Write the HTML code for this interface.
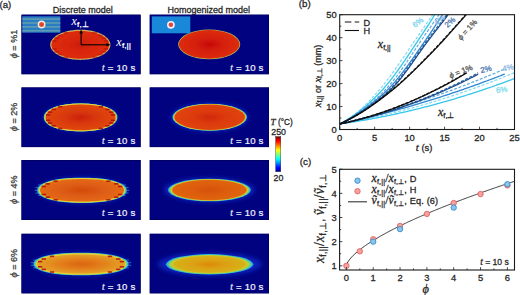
<!DOCTYPE html><html><head><meta charset="utf-8"><style>
html,body{margin:0;padding:0;background:#fff;width:520px;height:295px;overflow:hidden}
svg{display:block}
text{font-family:"Liberation Sans",sans-serif}
.serif{font-family:"Liberation Serif",serif}
</style></head><body>
<svg width="520" height="295" viewBox="0 0 520 295">
<defs>
<filter id="bl1" x="-20%" y="-40%" width="140%" height="180%"><feGaussianBlur stdDeviation="0.55"/></filter>
<filter id="bl2" x="-20%" y="-40%" width="140%" height="180%"><feGaussianBlur stdDeviation="1.1"/></filter>
<filter id="bl3" x="-30%" y="-60%" width="160%" height="220%"><feGaussianBlur stdDeviation="2.2"/></filter>

<radialGradient id="gh0" cx="0.5" cy="0.5" r="0.5"><stop offset="0" stop-color="#c80606"/><stop offset="0.45" stop-color="#d42008"/><stop offset="1" stop-color="#dc2c08"/></radialGradient>
<radialGradient id="gh1" cx="0.5" cy="0.5" r="0.5"><stop offset="0" stop-color="#d02808"/><stop offset="0.45" stop-color="#dc3a0c"/><stop offset="1" stop-color="#e04410"/></radialGradient>
<radialGradient id="gh2" cx="0.5" cy="0.5" r="0.5"><stop offset="0" stop-color="#d45210"/><stop offset="0.45" stop-color="#dc5c10"/><stop offset="1" stop-color="#e06610"/></radialGradient>
<radialGradient id="gh3" cx="0.5" cy="0.5" r="0.5"><stop offset="0" stop-color="#dc8a10"/><stop offset="0.45" stop-color="#dca012"/><stop offset="1" stop-color="#d6b216"/></radialGradient>
<radialGradient id="gd0" cx="0.5" cy="0.5" r="0.5"><stop offset="0" stop-color="#cc1c08"/><stop offset="0.45" stop-color="#d82608"/><stop offset="1" stop-color="#de2c08"/></radialGradient>
<radialGradient id="gd1" cx="0.5" cy="0.5" r="0.5"><stop offset="0" stop-color="#cc2008"/><stop offset="0.45" stop-color="#d8380c"/><stop offset="1" stop-color="#e04812"/></radialGradient>
<radialGradient id="gd2" cx="0.5" cy="0.5" r="0.5"><stop offset="0" stop-color="#d44a10"/><stop offset="0.45" stop-color="#dc5a12"/><stop offset="1" stop-color="#e46a14"/></radialGradient>
<radialGradient id="gd3" cx="0.5" cy="0.5" r="0.5"><stop offset="0" stop-color="#dc6414"/><stop offset="0.45" stop-color="#e27c1a"/><stop offset="1" stop-color="#e4a028"/></radialGradient>
<linearGradient id="jet" x1="0" y1="1" x2="0" y2="0">
<stop offset="0" stop-color="#00008f"/><stop offset="0.11" stop-color="#0000ff"/>
<stop offset="0.36" stop-color="#00ffff"/><stop offset="0.62" stop-color="#ffff00"/>
<stop offset="0.87" stop-color="#ff0000"/><stop offset="1" stop-color="#800000"/>
</linearGradient>
<clipPath id="clipb"><rect x="339.7" y="14.7" width="174.8" height="114.8"/></clipPath>
<clipPath id="clipc"><rect x="339.6" y="169.3" width="174.9" height="100.7"/></clipPath>
<clipPath id="cp00"><rect x="21.3" y="14.4" width="119.5" height="60"/></clipPath>
<clipPath id="cp01"><rect x="149.5" y="14.4" width="119.5" height="60"/></clipPath>
<clipPath id="cp10"><rect x="21.3" y="87.3" width="119.5" height="60"/></clipPath>
<clipPath id="cp11"><rect x="149.5" y="87.3" width="119.5" height="60"/></clipPath>
<clipPath id="cp20"><rect x="21.3" y="160.0" width="119.5" height="60"/></clipPath>
<clipPath id="cp21"><rect x="149.5" y="160.0" width="119.5" height="60"/></clipPath>
<clipPath id="cp30"><rect x="21.3" y="233.6" width="119.5" height="60"/></clipPath>
<clipPath id="cp31"><rect x="149.5" y="233.6" width="119.5" height="60"/></clipPath>
</defs>
<text x="-0.5" y="8.4" font-size="9.6" fill="#262626" stroke="#262626" stroke-width="0.28">(a)</text>
<text x="82.8" y="13" font-size="9" fill="#262626" text-anchor="middle" stroke="#262626" stroke-width="0.28">Discrete model</text>
<text x="208.8" y="13" font-size="9" fill="#262626" text-anchor="middle" stroke="#262626" stroke-width="0.28">Homogenized model</text>
<g clip-path="url(#cp00)">
<rect x="21.3" y="14.4" width="119.5" height="60" fill="#01027f"/>
<g filter="url(#bl1)">
<path d="M110.40,44.80 L110.34,45.79 L110.14,46.77 L109.82,47.75 L109.37,48.71 L108.80,49.65 L108.11,50.58 L107.30,51.48 L106.37,52.35 L105.33,53.19 L104.18,53.99 L102.93,54.76 L101.58,55.48 L100.15,56.15 L98.62,56.78 L97.02,57.36 L95.35,57.88 L93.61,58.34 L91.82,58.75 L89.98,59.10 L88.09,59.39 L86.17,59.61 L84.23,59.77 L82.27,59.87 L80.30,59.90 L78.33,59.87 L76.37,59.77 L74.43,59.61 L72.51,59.39 L70.62,59.10 L68.78,58.75 L66.99,58.34 L65.25,57.88 L63.58,57.36 L61.98,56.78 L60.45,56.15 L59.02,55.48 L57.67,54.76 L56.42,53.99 L55.27,53.19 L54.23,52.35 L53.30,51.48 L52.49,50.58 L51.80,49.65 L51.23,48.71 L50.78,47.75 L50.46,46.77 L50.26,45.79 L50.20,44.80 L50.26,43.81 L50.46,42.83 L50.78,41.85 L51.23,40.89 L51.80,39.95 L52.49,39.02 L53.30,38.12 L54.23,37.25 L55.27,36.41 L56.42,35.61 L57.67,34.84 L59.02,34.12 L60.45,33.45 L61.98,32.82 L63.58,32.24 L65.25,31.72 L66.99,31.26 L68.78,30.85 L70.62,30.50 L72.51,30.21 L74.43,29.99 L76.37,29.83 L78.33,29.73 L80.30,29.70 L82.27,29.73 L84.23,29.83 L86.17,29.99 L88.09,30.21 L89.98,30.50 L91.82,30.85 L93.61,31.26 L95.35,31.72 L97.02,32.24 L98.62,32.82 L100.15,33.45 L101.58,34.12 L102.93,34.84 L104.18,35.61 L105.33,36.41 L106.37,37.25 L107.30,38.12 L108.11,39.02 L108.80,39.95 L109.37,40.89 L109.82,41.85 L110.14,42.83 L110.34,43.81Z" fill="#d0b060"/>
<path d="M109.19,44.80 L109.13,45.71 L108.94,46.61 L108.63,47.51 L108.21,48.39 L107.66,49.26 L106.99,50.12 L106.21,50.94 L105.32,51.74 L104.32,52.52 L103.22,53.26 L102.02,53.96 L100.73,54.62 L99.35,55.24 L97.89,55.82 L96.35,56.35 L94.75,56.83 L93.08,57.26 L91.36,57.63 L89.59,57.95 L87.78,58.22 L85.94,58.42 L84.07,58.57 L82.19,58.66 L80.30,58.69 L78.41,58.66 L76.53,58.57 L74.66,58.42 L72.82,58.22 L71.01,57.95 L69.24,57.63 L67.52,57.26 L65.86,56.83 L64.25,56.35 L62.71,55.82 L61.25,55.24 L59.87,54.62 L58.58,53.96 L57.38,53.26 L56.28,52.52 L55.28,51.74 L54.39,50.94 L53.61,50.12 L52.94,49.26 L52.39,48.39 L51.97,47.51 L51.66,46.61 L51.47,45.71 L51.41,44.80 L51.47,43.89 L51.66,42.99 L51.97,42.09 L52.39,41.21 L52.94,40.34 L53.61,39.48 L54.39,38.66 L55.28,37.86 L56.28,37.08 L57.38,36.34 L58.58,35.64 L59.87,34.98 L61.25,34.36 L62.71,33.78 L64.25,33.25 L65.85,32.77 L67.52,32.34 L69.24,31.97 L71.01,31.65 L72.82,31.38 L74.66,31.18 L76.53,31.03 L78.41,30.94 L80.30,30.91 L82.19,30.94 L84.07,31.03 L85.94,31.18 L87.78,31.38 L89.59,31.65 L91.36,31.97 L93.08,32.34 L94.75,32.77 L96.35,33.25 L97.89,33.78 L99.35,34.36 L100.73,34.98 L102.02,35.64 L103.22,36.34 L104.32,37.08 L105.32,37.85 L106.21,38.66 L106.99,39.48 L107.66,40.34 L108.21,41.21 L108.63,42.09 L108.94,42.99 L109.13,43.89Z" fill="url(#gd0)"/>
<rect x="63.57" y="32.01" width="4.4" height="1.6" fill="#b00c08" opacity="0.55"/>
<rect x="92.63" y="32.01" width="4.4" height="1.6" fill="#b00c08" opacity="0.55"/>
<rect x="57.86" y="34.72" width="4.4" height="1.6" fill="#b00c08" opacity="0.55"/>
<rect x="98.34" y="34.72" width="4.4" height="1.6" fill="#b00c08" opacity="0.55"/>
<rect x="54.39" y="37.43" width="4.4" height="1.6" fill="#b00c08" opacity="0.55"/>
<rect x="101.81" y="37.43" width="4.4" height="1.6" fill="#b00c08" opacity="0.55"/>
<rect x="52.31" y="40.14" width="4.4" height="1.6" fill="#b00c08" opacity="0.55"/>
<rect x="103.89" y="40.14" width="4.4" height="1.6" fill="#b00c08" opacity="0.55"/>
<rect x="52.31" y="48.26" width="4.4" height="1.6" fill="#b00c08" opacity="0.55"/>
<rect x="103.89" y="48.26" width="4.4" height="1.6" fill="#b00c08" opacity="0.55"/>
<rect x="54.39" y="50.97" width="4.4" height="1.6" fill="#b00c08" opacity="0.55"/>
<rect x="101.81" y="50.97" width="4.4" height="1.6" fill="#b00c08" opacity="0.55"/>
<rect x="57.86" y="53.68" width="4.4" height="1.6" fill="#b00c08" opacity="0.55"/>
<rect x="98.34" y="53.68" width="4.4" height="1.6" fill="#b00c08" opacity="0.55"/>
<rect x="63.57" y="56.39" width="4.4" height="1.6" fill="#b00c08" opacity="0.55"/>
<rect x="92.63" y="56.39" width="4.4" height="1.6" fill="#b00c08" opacity="0.55"/>
</g>
<rect x="21.650000000000002" y="14.75" width="118.8" height="59.3" fill="none" stroke="#000058" stroke-width="0.7"/>
</g>
<text x="135.4" y="70.80000000000001" font-size="9.6" letter-spacing="0.2" fill="#f2f2fa" stroke="#f2f2fa" stroke-width="0.22" text-anchor="end"><tspan font-style="italic" font-family="Liberation Serif" font-size="9.4">t</tspan> = 10 s</text>
<g clip-path="url(#cp01)">
<rect x="149.5" y="14.4" width="119.5" height="60" fill="#01027f"/>
<g filter="url(#bl1)">
<ellipse cx="209.20" cy="44.40" rx="31.00" ry="14.90" fill="#b0c460"/>
<ellipse cx="209.20" cy="44.40" rx="30.30" ry="14.30" fill="url(#gh0)"/>
</g>
<rect x="149.85" y="14.75" width="118.8" height="59.3" fill="none" stroke="#000058" stroke-width="0.7"/>
</g>
<text x="263.6" y="70.80000000000001" font-size="9.6" letter-spacing="0.2" fill="#f2f2fa" stroke="#f2f2fa" stroke-width="0.22" text-anchor="end"><tspan font-style="italic" font-family="Liberation Serif" font-size="9.4">t</tspan> = 10 s</text>
<text x="0" y="0" font-size="9" fill="#3a3a3a" text-anchor="middle" transform="translate(16.8 44.1) rotate(-90)" stroke="#3a3a3a" stroke-width="0.28"><tspan class="serif" font-style="italic" font-size="10">ϕ</tspan> = %1</text>
<g clip-path="url(#cp10)">
<rect x="21.3" y="87.3" width="119.5" height="60" fill="#01027f"/>
<g filter="url(#bl3)"><ellipse cx="80.60" cy="117.40" rx="37.26" ry="14.26" fill="#1a3ae8" opacity="0.55"/></g>
<g filter="url(#bl1)">
<path d="M117.38,117.40 L117.31,118.50 L117.09,119.50 L116.72,120.45 L116.21,121.37 L115.56,122.26 L114.77,123.11 L113.84,123.94 L112.77,124.73 L111.58,125.48 L110.25,126.20 L108.81,126.88 L107.24,127.51 L105.57,128.11 L103.78,128.66 L101.89,129.16 L99.90,129.61 L97.82,130.02 L95.65,130.37 L93.40,130.67 L91.06,130.92 L88.64,131.11 L86.13,131.25 L83.51,131.33 L80.60,131.36 L77.69,131.33 L75.07,131.25 L72.56,131.11 L70.14,130.92 L67.80,130.67 L65.55,130.37 L63.38,130.02 L61.30,129.61 L59.31,129.16 L57.42,128.66 L55.63,128.11 L53.96,127.51 L52.39,126.88 L50.95,126.20 L49.62,125.48 L48.43,124.73 L47.36,123.94 L46.43,123.11 L45.64,122.26 L44.99,121.37 L44.48,120.45 L44.11,119.50 L43.89,118.50 L43.82,117.40 L43.89,116.30 L44.11,115.30 L44.48,114.35 L44.99,113.43 L45.64,112.54 L46.43,111.69 L47.36,110.86 L48.43,110.07 L49.62,109.32 L50.95,108.60 L52.39,107.92 L53.96,107.29 L55.63,106.69 L57.42,106.14 L59.31,105.64 L61.30,105.19 L63.38,104.78 L65.55,104.43 L67.80,104.13 L70.14,103.88 L72.56,103.69 L75.07,103.55 L77.69,103.47 L80.60,103.44 L83.51,103.47 L86.13,103.55 L88.64,103.69 L91.06,103.88 L93.40,104.13 L95.65,104.43 L97.82,104.78 L99.90,105.19 L101.89,105.64 L103.78,106.14 L105.57,106.69 L107.24,107.29 L108.81,107.92 L110.25,108.60 L111.58,109.32 L112.77,110.07 L113.84,110.86 L114.77,111.69 L115.56,112.54 L116.21,113.43 L116.72,114.35 L117.09,115.30 L117.31,116.30Z" fill="#30c0e8"/>
<path d="M116.86,117.40 L116.79,118.50 L116.57,119.48 L116.21,120.43 L115.71,121.34 L115.07,122.22 L114.29,123.07 L113.37,123.88 L112.32,124.67 L111.14,125.41 L109.84,126.13 L108.41,126.80 L106.87,127.43 L105.21,128.02 L103.45,128.56 L101.59,129.06 L99.63,129.51 L97.58,129.91 L95.44,130.26 L93.22,130.56 L90.91,130.81 L88.53,131.00 L86.06,131.13 L83.47,131.22 L80.60,131.25 L77.73,131.22 L75.14,131.13 L72.67,131.00 L70.29,130.81 L67.98,130.56 L65.76,130.26 L63.62,129.91 L61.57,129.51 L59.61,129.06 L57.75,128.56 L55.99,128.02 L54.33,127.43 L52.79,126.80 L51.36,126.13 L50.06,125.41 L48.88,124.67 L47.83,123.88 L46.91,123.07 L46.13,122.22 L45.49,121.34 L44.99,120.43 L44.63,119.48 L44.41,118.50 L44.34,117.40 L44.41,116.30 L44.63,115.32 L44.99,114.37 L45.49,113.46 L46.13,112.58 L46.91,111.73 L47.83,110.92 L48.88,110.13 L50.06,109.39 L51.36,108.67 L52.79,108.00 L54.33,107.37 L55.99,106.78 L57.75,106.24 L59.61,105.74 L61.57,105.29 L63.62,104.89 L65.76,104.54 L67.98,104.24 L70.29,103.99 L72.67,103.80 L75.14,103.67 L77.73,103.58 L80.60,103.56 L83.47,103.58 L86.06,103.67 L88.53,103.80 L90.91,103.99 L93.22,104.24 L95.44,104.54 L97.58,104.89 L99.63,105.29 L101.59,105.74 L103.45,106.24 L105.21,106.78 L106.87,107.37 L108.41,108.00 L109.84,108.67 L111.14,109.39 L112.32,110.13 L113.37,110.92 L114.29,111.73 L115.07,112.58 L115.71,113.46 L116.21,114.37 L116.57,115.32 L116.79,116.30Z" fill="#8cd058"/>
<path d="M116.50,117.40 L116.43,118.49 L116.21,119.48 L115.86,120.42 L115.36,121.32 L114.72,122.20 L113.95,123.05 L113.04,123.86 L112.00,124.64 L110.84,125.39 L109.55,126.10 L108.13,126.77 L106.61,127.40 L104.97,127.98 L103.22,128.53 L101.38,129.02 L99.44,129.47 L97.41,129.87 L95.29,130.22 L93.09,130.52 L90.81,130.76 L88.45,130.95 L86.00,131.09 L83.44,131.17 L80.60,131.20 L77.76,131.17 L75.20,131.09 L72.75,130.95 L70.39,130.76 L68.11,130.52 L65.91,130.22 L63.79,129.87 L61.76,129.47 L59.82,129.02 L57.98,128.53 L56.23,127.98 L54.59,127.40 L53.07,126.77 L51.65,126.10 L50.36,125.39 L49.20,124.64 L48.16,123.86 L47.25,123.05 L46.48,122.20 L45.84,121.32 L45.34,120.42 L44.99,119.48 L44.77,118.49 L44.70,117.40 L44.77,116.31 L44.99,115.32 L45.34,114.38 L45.84,113.48 L46.48,112.60 L47.25,111.75 L48.16,110.94 L49.20,110.16 L50.36,109.41 L51.65,108.70 L53.07,108.03 L54.59,107.40 L56.23,106.82 L57.98,106.27 L59.82,105.78 L61.76,105.33 L63.79,104.93 L65.91,104.58 L68.11,104.28 L70.39,104.04 L72.75,103.85 L75.20,103.71 L77.76,103.63 L80.60,103.60 L83.44,103.63 L86.00,103.71 L88.45,103.85 L90.81,104.04 L93.09,104.28 L95.29,104.58 L97.41,104.93 L99.44,105.33 L101.38,105.78 L103.22,106.27 L104.97,106.82 L106.61,107.40 L108.13,108.03 L109.55,108.70 L110.84,109.41 L112.00,110.16 L113.04,110.94 L113.95,111.75 L114.72,112.60 L115.36,113.48 L115.86,114.38 L116.21,115.32 L116.43,116.31Z" fill="#e8d234"/>
<path d="M115.56,117.40 L115.49,118.42 L115.28,119.33 L114.93,120.21 L114.45,121.06 L113.83,121.87 L113.08,122.66 L112.19,123.42 L111.18,124.15 L110.04,124.84 L108.79,125.50 L107.41,126.13 L105.93,126.72 L104.33,127.26 L102.63,127.77 L100.84,128.23 L98.95,128.65 L96.97,129.02 L94.91,129.35 L92.76,129.62 L90.54,129.85 L88.24,130.03 L85.86,130.16 L83.37,130.23 L80.60,130.26 L77.83,130.23 L75.34,130.16 L72.96,130.03 L70.66,129.85 L68.44,129.62 L66.29,129.35 L64.23,129.02 L62.25,128.65 L60.36,128.23 L58.57,127.77 L56.87,127.26 L55.27,126.72 L53.79,126.13 L52.41,125.50 L51.16,124.84 L50.02,124.15 L49.01,123.42 L48.12,122.66 L47.37,121.87 L46.75,121.06 L46.27,120.21 L45.92,119.33 L45.71,118.42 L45.64,117.40 L45.71,116.38 L45.92,115.47 L46.27,114.59 L46.75,113.74 L47.37,112.93 L48.12,112.14 L49.01,111.38 L50.02,110.65 L51.16,109.96 L52.41,109.30 L53.79,108.67 L55.27,108.08 L56.87,107.54 L58.57,107.03 L60.36,106.57 L62.25,106.15 L64.23,105.78 L66.29,105.45 L68.44,105.18 L70.66,104.95 L72.96,104.77 L75.34,104.64 L77.83,104.57 L80.60,104.54 L83.37,104.57 L85.86,104.64 L88.24,104.77 L90.54,104.95 L92.76,105.18 L94.91,105.45 L96.97,105.78 L98.95,106.15 L100.84,106.57 L102.63,107.03 L104.33,107.54 L105.93,108.08 L107.41,108.67 L108.79,109.30 L110.04,109.96 L111.18,110.65 L112.19,111.38 L113.08,112.14 L113.83,112.93 L114.45,113.74 L114.93,114.59 L115.28,115.47 L115.49,116.38Z" fill="url(#gd1)"/>
<rect x="58.15" y="105.92" width="4.4" height="1.6" fill="#b00c08" opacity="0.85"/>
<rect x="98.65" y="105.92" width="4.4" height="1.6" fill="#b00c08" opacity="0.85"/>
<rect x="51.49" y="108.64" width="4.4" height="1.6" fill="#b00c08" opacity="0.85"/>
<rect x="105.31" y="108.64" width="4.4" height="1.6" fill="#b00c08" opacity="0.85"/>
<rect x="47.81" y="111.36" width="4.4" height="1.6" fill="#b00c08" opacity="0.85"/>
<rect x="108.99" y="111.36" width="4.4" height="1.6" fill="#b00c08" opacity="0.85"/>
<rect x="45.96" y="114.08" width="4.4" height="1.6" fill="#b00c08" opacity="0.85"/>
<rect x="110.84" y="114.08" width="4.4" height="1.6" fill="#b00c08" opacity="0.85"/>
<rect x="45.96" y="119.52" width="4.4" height="1.6" fill="#b00c08" opacity="0.85"/>
<rect x="110.84" y="119.52" width="4.4" height="1.6" fill="#b00c08" opacity="0.85"/>
<rect x="47.81" y="122.24" width="4.4" height="1.6" fill="#b00c08" opacity="0.85"/>
<rect x="108.99" y="122.24" width="4.4" height="1.6" fill="#b00c08" opacity="0.85"/>
<rect x="51.49" y="124.96" width="4.4" height="1.6" fill="#b00c08" opacity="0.85"/>
<rect x="105.31" y="124.96" width="4.4" height="1.6" fill="#b00c08" opacity="0.85"/>
<rect x="58.15" y="127.68" width="4.4" height="1.6" fill="#b00c08" opacity="0.85"/>
<rect x="98.65" y="127.68" width="4.4" height="1.6" fill="#b00c08" opacity="0.85"/>
</g>
<rect x="21.650000000000002" y="87.64999999999999" width="118.8" height="59.3" fill="none" stroke="#000058" stroke-width="0.7"/>
</g>
<text x="135.4" y="143.70000000000002" font-size="9.6" letter-spacing="0.2" fill="#f2f2fa" stroke="#f2f2fa" stroke-width="0.22" text-anchor="end"><tspan font-style="italic" font-family="Liberation Serif" font-size="9.4">t</tspan> = 10 s</text>
<g clip-path="url(#cp11)">
<rect x="149.5" y="87.3" width="119.5" height="60" fill="#01027f"/>
<g filter="url(#bl3)"><ellipse cx="209.70" cy="117.20" rx="38.90" ry="14.40" fill="#1a3ae8" opacity="0.55"/></g>
<g filter="url(#bl1)">
<ellipse cx="209.70" cy="117.20" rx="37.20" ry="13.45" fill="#2ab8e8"/>
<ellipse cx="209.70" cy="117.20" rx="36.60" ry="13.25" fill="#8cd058"/>
<ellipse cx="209.70" cy="117.20" rx="36.00" ry="13.10" fill="#e4d030"/>
<ellipse cx="209.70" cy="117.20" rx="35.30" ry="12.70" fill="url(#gh1)"/>
</g>
<rect x="149.85" y="87.64999999999999" width="118.8" height="59.3" fill="none" stroke="#000058" stroke-width="0.7"/>
</g>
<text x="263.6" y="143.70000000000002" font-size="9.6" letter-spacing="0.2" fill="#f2f2fa" stroke="#f2f2fa" stroke-width="0.22" text-anchor="end"><tspan font-style="italic" font-family="Liberation Serif" font-size="9.4">t</tspan> = 10 s</text>
<text x="0" y="0" font-size="9" fill="#3a3a3a" text-anchor="middle" transform="translate(16.8 117.0) rotate(-90)" stroke="#3a3a3a" stroke-width="0.28"><tspan class="serif" font-style="italic" font-size="10">ϕ</tspan> = 2%</text>
<g clip-path="url(#cp20)">
<rect x="21.3" y="160.0" width="119.5" height="60" fill="#01027f"/>
<g filter="url(#bl3)"><ellipse cx="82.00" cy="190.30" rx="45.56" ry="13.21" fill="#1a3ae8" opacity="0.55"/></g>
<g filter="url(#bl1)">
<path d="M126.62,190.30 L126.53,191.36 L126.27,192.29 L125.84,193.16 L125.24,194.00 L124.46,194.80 L123.52,195.58 L122.42,196.32 L121.15,197.03 L119.73,197.71 L118.15,198.35 L116.43,198.96 L114.56,199.52 L112.56,200.05 L110.42,200.54 L108.15,200.99 L105.76,201.39 L103.25,201.75 L100.63,202.06 L97.90,202.33 L95.06,202.55 L92.10,202.72 L89.01,202.84 L85.74,202.92 L82.00,202.94 L78.26,202.92 L74.99,202.84 L71.90,202.72 L68.94,202.55 L66.10,202.33 L63.37,202.06 L60.75,201.75 L58.24,201.39 L55.85,200.99 L53.58,200.54 L51.44,200.05 L49.44,199.52 L47.57,198.96 L45.85,198.35 L44.27,197.71 L42.85,197.03 L41.58,196.32 L40.48,195.58 L39.54,194.80 L38.76,194.00 L38.16,193.16 L37.73,192.29 L37.47,191.36 L37.38,190.30 L37.47,189.24 L37.73,188.31 L38.16,187.44 L38.76,186.60 L39.54,185.80 L40.48,185.02 L41.58,184.28 L42.85,183.57 L44.27,182.89 L45.85,182.25 L47.57,181.64 L49.44,181.08 L51.44,180.55 L53.58,180.06 L55.85,179.61 L58.24,179.21 L60.75,178.85 L63.37,178.54 L66.10,178.27 L68.94,178.05 L71.90,177.88 L74.99,177.76 L78.26,177.68 L82.00,177.66 L85.74,177.68 L89.01,177.76 L92.10,177.88 L95.06,178.05 L97.90,178.27 L100.63,178.54 L103.25,178.85 L105.76,179.21 L108.15,179.61 L110.42,180.06 L112.56,180.55 L114.56,181.08 L116.43,181.64 L118.15,182.25 L119.73,182.89 L121.15,183.57 L122.42,184.28 L123.52,185.02 L124.46,185.80 L125.24,186.60 L125.84,187.44 L126.27,188.31 L126.53,189.24Z" fill="#30c0e8"/>
<path d="M125.58,190.30 L125.50,191.34 L125.24,192.25 L124.82,193.10 L124.23,193.92 L123.47,194.71 L122.55,195.47 L121.47,196.20 L120.24,196.90 L118.85,197.56 L117.31,198.19 L115.63,198.78 L113.80,199.34 L111.84,199.86 L109.75,200.33 L107.54,200.77 L105.21,201.17 L102.76,201.52 L100.20,201.82 L97.53,202.09 L94.75,202.30 L91.86,202.47 L88.85,202.59 L85.65,202.66 L82.00,202.69 L78.35,202.66 L75.15,202.59 L72.14,202.47 L69.25,202.30 L66.47,202.09 L63.80,201.82 L61.24,201.52 L58.79,201.17 L56.46,200.77 L54.25,200.33 L52.16,199.86 L50.20,199.34 L48.37,198.78 L46.69,198.19 L45.15,197.56 L43.76,196.90 L42.53,196.20 L41.45,195.47 L40.53,194.71 L39.77,193.92 L39.18,193.10 L38.76,192.25 L38.50,191.34 L38.42,190.30 L38.50,189.26 L38.76,188.35 L39.18,187.50 L39.77,186.68 L40.53,185.89 L41.45,185.13 L42.53,184.40 L43.76,183.70 L45.15,183.04 L46.69,182.41 L48.37,181.82 L50.20,181.26 L52.16,180.74 L54.25,180.27 L56.46,179.83 L58.79,179.43 L61.24,179.08 L63.80,178.78 L66.47,178.51 L69.25,178.30 L72.14,178.13 L75.15,178.01 L78.35,177.94 L82.00,177.92 L85.65,177.94 L88.85,178.01 L91.86,178.13 L94.75,178.30 L97.53,178.51 L100.20,178.78 L102.76,179.08 L105.21,179.43 L107.54,179.83 L109.75,180.27 L111.84,180.74 L113.80,181.26 L115.63,181.82 L117.31,182.41 L118.85,183.04 L120.24,183.70 L121.47,184.40 L122.55,185.13 L123.47,185.89 L124.23,186.68 L124.82,187.50 L125.24,188.35 L125.50,189.26Z" fill="#8cd058"/>
<path d="M124.90,190.30 L124.82,191.32 L124.57,192.22 L124.15,193.06 L123.57,193.87 L122.83,194.65 L121.92,195.39 L120.86,196.11 L119.64,196.80 L118.27,197.45 L116.76,198.07 L115.10,198.65 L113.31,199.20 L111.38,199.71 L109.32,200.18 L107.14,200.62 L104.85,201.00 L102.43,201.35 L99.92,201.65 L97.29,201.91 L94.56,202.12 L91.71,202.29 L88.74,202.41 L85.60,202.48 L82.00,202.50 L78.40,202.48 L75.26,202.41 L72.29,202.29 L69.44,202.12 L66.71,201.91 L64.08,201.65 L61.57,201.35 L59.15,201.00 L56.86,200.62 L54.68,200.18 L52.62,199.71 L50.69,199.20 L48.90,198.65 L47.24,198.07 L45.73,197.45 L44.36,196.80 L43.14,196.11 L42.08,195.39 L41.17,194.65 L40.43,193.87 L39.85,193.06 L39.43,192.22 L39.18,191.32 L39.10,190.30 L39.18,189.28 L39.43,188.38 L39.85,187.54 L40.43,186.73 L41.17,185.95 L42.08,185.21 L43.14,184.49 L44.36,183.80 L45.73,183.15 L47.24,182.53 L48.90,181.95 L50.69,181.40 L52.62,180.89 L54.68,180.42 L56.86,179.98 L59.15,179.60 L61.57,179.25 L64.08,178.95 L66.71,178.69 L69.44,178.48 L72.29,178.31 L75.26,178.19 L78.40,178.12 L82.00,178.10 L85.60,178.12 L88.74,178.19 L91.71,178.31 L94.56,178.48 L97.29,178.69 L99.92,178.95 L102.43,179.25 L104.85,179.60 L107.14,179.98 L109.32,180.42 L111.38,180.89 L113.31,181.40 L115.10,181.95 L116.76,182.53 L118.27,183.15 L119.64,183.80 L120.86,184.49 L121.92,185.21 L122.83,185.95 L123.57,186.73 L124.15,187.54 L124.57,188.38 L124.82,189.28Z" fill="#e8d234"/>
<path d="M123.96,190.30 L123.88,191.24 L123.63,192.07 L123.23,192.85 L122.66,193.60 L121.93,194.31 L121.05,195.00 L120.01,195.66 L118.82,196.30 L117.48,196.90 L116.00,197.47 L114.38,198.01 L112.62,198.52 L110.73,198.99 L108.72,199.42 L106.59,199.82 L104.34,200.18 L101.99,200.50 L99.52,200.78 L96.95,201.02 L94.28,201.21 L91.50,201.36 L88.59,201.47 L85.52,201.54 L82.00,201.56 L78.48,201.54 L75.41,201.47 L72.50,201.36 L69.72,201.21 L67.05,201.02 L64.48,200.78 L62.01,200.50 L59.66,200.18 L57.41,199.82 L55.28,199.42 L53.27,198.99 L51.38,198.52 L49.62,198.01 L48.00,197.47 L46.52,196.90 L45.18,196.30 L43.99,195.66 L42.95,195.00 L42.07,194.31 L41.34,193.60 L40.77,192.85 L40.37,192.07 L40.12,191.24 L40.04,190.30 L40.12,189.36 L40.37,188.53 L40.77,187.75 L41.34,187.00 L42.07,186.29 L42.95,185.60 L43.99,184.94 L45.18,184.30 L46.52,183.70 L48.00,183.13 L49.62,182.59 L51.38,182.08 L53.27,181.61 L55.28,181.18 L57.41,180.78 L59.66,180.42 L62.01,180.10 L64.48,179.82 L67.05,179.58 L69.72,179.39 L72.50,179.24 L75.41,179.13 L78.48,179.06 L82.00,179.04 L85.52,179.06 L88.59,179.13 L91.50,179.24 L94.28,179.39 L96.95,179.58 L99.52,179.82 L101.99,180.10 L104.34,180.42 L106.59,180.78 L108.72,181.18 L110.73,181.61 L112.62,182.08 L114.38,182.59 L116.00,183.13 L117.48,183.70 L118.82,184.30 L120.01,184.94 L121.05,185.60 L121.93,186.29 L122.66,187.00 L123.23,187.75 L123.63,188.53 L123.88,189.36Z" fill="url(#gd2)"/>
<rect x="53.43" y="180.37" width="4.4" height="1.6" fill="#b00c08" opacity="0.85"/>
<rect x="106.17" y="180.37" width="4.4" height="1.6" fill="#b00c08" opacity="0.85"/>
<rect x="45.56" y="183.03" width="4.4" height="1.6" fill="#b00c08" opacity="0.85"/>
<rect x="114.04" y="183.03" width="4.4" height="1.6" fill="#b00c08" opacity="0.85"/>
<rect x="41.59" y="185.70" width="4.4" height="1.6" fill="#b00c08" opacity="0.85"/>
<rect x="118.01" y="185.70" width="4.4" height="1.6" fill="#b00c08" opacity="0.85"/>
<rect x="41.59" y="193.70" width="4.4" height="1.6" fill="#b00c08" opacity="0.85"/>
<rect x="118.01" y="193.70" width="4.4" height="1.6" fill="#b00c08" opacity="0.85"/>
<rect x="45.56" y="196.37" width="4.4" height="1.6" fill="#b00c08" opacity="0.85"/>
<rect x="114.04" y="196.37" width="4.4" height="1.6" fill="#b00c08" opacity="0.85"/>
<rect x="53.43" y="199.03" width="4.4" height="1.6" fill="#b00c08" opacity="0.85"/>
<rect x="106.17" y="199.03" width="4.4" height="1.6" fill="#b00c08" opacity="0.85"/>
<line x1="42.22" y1="184.97" x2="38.22" y2="184.97" stroke="#50c8f0" stroke-width="0.7" opacity="0.7"/>
<line x1="121.78" y1="184.97" x2="125.78" y2="184.97" stroke="#50c8f0" stroke-width="0.7" opacity="0.7"/>
<line x1="39.52" y1="187.63" x2="35.52" y2="187.63" stroke="#50c8f0" stroke-width="0.7" opacity="0.7"/>
<line x1="124.48" y1="187.63" x2="128.48" y2="187.63" stroke="#50c8f0" stroke-width="0.7" opacity="0.7"/>
<line x1="38.80" y1="190.30" x2="34.80" y2="190.30" stroke="#50c8f0" stroke-width="0.7" opacity="0.7"/>
<line x1="125.20" y1="190.30" x2="129.20" y2="190.30" stroke="#50c8f0" stroke-width="0.7" opacity="0.7"/>
<line x1="39.52" y1="192.97" x2="35.52" y2="192.97" stroke="#50c8f0" stroke-width="0.7" opacity="0.7"/>
<line x1="124.48" y1="192.97" x2="128.48" y2="192.97" stroke="#50c8f0" stroke-width="0.7" opacity="0.7"/>
<line x1="42.22" y1="195.63" x2="38.22" y2="195.63" stroke="#50c8f0" stroke-width="0.7" opacity="0.7"/>
<line x1="121.78" y1="195.63" x2="125.78" y2="195.63" stroke="#50c8f0" stroke-width="0.7" opacity="0.7"/>
</g>
<rect x="21.650000000000002" y="160.35" width="118.8" height="59.3" fill="none" stroke="#000058" stroke-width="0.7"/>
</g>
<text x="135.4" y="216.4" font-size="9.6" letter-spacing="0.2" fill="#f2f2fa" stroke="#f2f2fa" stroke-width="0.22" text-anchor="end"><tspan font-style="italic" font-family="Liberation Serif" font-size="9.4">t</tspan> = 10 s</text>
<g clip-path="url(#cp21)">
<rect x="149.5" y="160.0" width="119.5" height="60" fill="#01027f"/>
<g filter="url(#bl3)"><ellipse cx="209.40" cy="190.00" rx="45.40" ry="12.50" fill="#1a3ae8" opacity="0.55"/></g>
<g filter="url(#bl1)">
<ellipse cx="209.40" cy="190.00" rx="41.40" ry="11.30" fill="#2ab8e8"/>
<ellipse cx="209.40" cy="190.00" rx="40.00" ry="10.95" fill="#8cd058"/>
<ellipse cx="209.40" cy="190.00" rx="38.60" ry="10.70" fill="#e2cc2c"/>
<ellipse cx="209.40" cy="190.00" rx="37.40" ry="10.30" fill="url(#gh2)"/>
</g>
<rect x="149.85" y="160.35" width="118.8" height="59.3" fill="none" stroke="#000058" stroke-width="0.7"/>
</g>
<text x="263.6" y="216.4" font-size="9.6" letter-spacing="0.2" fill="#f2f2fa" stroke="#f2f2fa" stroke-width="0.22" text-anchor="end"><tspan font-style="italic" font-family="Liberation Serif" font-size="9.4">t</tspan> = 10 s</text>
<text x="0" y="0" font-size="9" fill="#3a3a3a" text-anchor="middle" transform="translate(16.8 189.7) rotate(-90)" stroke="#3a3a3a" stroke-width="0.28"><tspan class="serif" font-style="italic" font-size="10">ϕ</tspan> = 4%</text>
<g clip-path="url(#cp30)">
<rect x="21.3" y="233.6" width="119.5" height="60" fill="#01027f"/>
<g filter="url(#bl3)"><ellipse cx="81.00" cy="264.00" rx="48.70" ry="12.05" fill="#1a3ae8" opacity="0.55"/></g>
<g filter="url(#bl1)">
<path d="M128.44,264.00 L128.35,264.95 L128.07,265.77 L127.61,266.55 L126.97,267.30 L126.15,268.02 L125.15,268.71 L123.97,269.37 L122.63,270.01 L121.11,270.61 L119.44,271.18 L117.60,271.72 L115.62,272.23 L113.49,272.70 L111.21,273.14 L108.80,273.54 L106.26,273.90 L103.60,274.22 L100.81,274.50 L97.91,274.73 L94.88,274.93 L91.74,275.08 L88.45,275.19 L84.98,275.26 L81.00,275.28 L77.02,275.26 L73.55,275.19 L70.26,275.08 L67.12,274.93 L64.09,274.73 L61.19,274.50 L58.40,274.22 L55.74,273.90 L53.20,273.54 L50.79,273.14 L48.51,272.70 L46.38,272.23 L44.40,271.72 L42.56,271.18 L40.89,270.61 L39.37,270.01 L38.03,269.37 L36.85,268.71 L35.85,268.02 L35.03,267.30 L34.39,266.55 L33.93,265.77 L33.65,264.95 L33.56,264.00 L33.65,263.05 L33.93,262.23 L34.39,261.45 L35.03,260.70 L35.85,259.98 L36.85,259.29 L38.03,258.63 L39.37,257.99 L40.89,257.39 L42.56,256.82 L44.40,256.28 L46.38,255.77 L48.51,255.30 L50.79,254.86 L53.20,254.46 L55.74,254.10 L58.40,253.78 L61.19,253.50 L64.09,253.27 L67.12,253.07 L70.26,252.92 L73.55,252.81 L77.02,252.74 L81.00,252.72 L84.98,252.74 L88.45,252.81 L91.74,252.92 L94.88,253.07 L97.91,253.27 L100.81,253.50 L103.60,253.78 L106.26,254.10 L108.80,254.46 L111.21,254.86 L113.49,255.30 L115.62,255.77 L117.60,256.28 L119.44,256.82 L121.11,257.39 L122.63,257.99 L123.97,258.63 L125.15,259.29 L126.15,259.98 L126.97,260.70 L127.61,261.45 L128.07,262.23 L128.35,263.05Z" fill="#30c0e8"/>
<path d="M127.00,264.00 L126.91,264.92 L126.64,265.72 L126.20,266.47 L125.57,267.20 L124.78,267.89 L123.81,268.56 L122.67,269.20 L121.36,269.82 L119.89,270.40 L118.27,270.96 L116.49,271.48 L114.57,271.97 L112.50,272.43 L110.30,272.85 L107.96,273.24 L105.50,273.59 L102.91,273.90 L100.21,274.17 L97.39,274.40 L94.46,274.59 L91.41,274.73 L88.23,274.84 L84.86,274.90 L81.00,274.93 L77.14,274.90 L73.77,274.84 L70.59,274.73 L67.54,274.59 L64.61,274.40 L61.79,274.17 L59.09,273.90 L56.50,273.59 L54.04,273.24 L51.70,272.85 L49.50,272.43 L47.43,271.97 L45.51,271.48 L43.73,270.96 L42.11,270.40 L40.64,269.82 L39.33,269.20 L38.19,268.56 L37.22,267.89 L36.43,267.20 L35.80,266.47 L35.36,265.72 L35.09,264.92 L35.00,264.00 L35.09,263.08 L35.36,262.28 L35.80,261.53 L36.43,260.80 L37.22,260.11 L38.19,259.44 L39.33,258.80 L40.64,258.18 L42.11,257.60 L43.73,257.04 L45.51,256.52 L47.43,256.03 L49.50,255.57 L51.70,255.15 L54.04,254.76 L56.50,254.41 L59.09,254.10 L61.79,253.83 L64.61,253.60 L67.54,253.41 L70.59,253.27 L73.77,253.16 L77.14,253.10 L81.00,253.07 L84.86,253.10 L88.23,253.16 L91.41,253.27 L94.46,253.41 L97.39,253.60 L100.21,253.83 L102.91,254.10 L105.50,254.41 L107.96,254.76 L110.30,255.15 L112.50,255.57 L114.57,256.03 L116.49,256.52 L118.27,257.04 L119.89,257.60 L121.36,258.18 L122.67,258.80 L123.81,259.44 L124.78,260.11 L125.57,260.80 L126.20,261.53 L126.64,262.28 L126.91,263.08Z" fill="#8cd058"/>
<path d="M126.00,264.00 L125.91,264.89 L125.65,265.66 L125.21,266.40 L124.60,267.10 L123.82,267.78 L122.87,268.43 L121.76,269.05 L120.48,269.64 L119.05,270.21 L117.46,270.75 L115.72,271.26 L113.84,271.74 L111.82,272.18 L109.66,272.59 L107.37,272.96 L104.96,273.30 L102.44,273.60 L99.79,273.86 L97.04,274.09 L94.17,274.27 L91.19,274.41 L88.07,274.52 L84.77,274.58 L81.00,274.60 L77.23,274.58 L73.93,274.52 L70.81,274.41 L67.83,274.27 L64.96,274.09 L62.21,273.86 L59.56,273.60 L57.04,273.30 L54.63,272.96 L52.34,272.59 L50.18,272.18 L48.16,271.74 L46.28,271.26 L44.54,270.75 L42.95,270.21 L41.52,269.64 L40.24,269.05 L39.13,268.43 L38.18,267.78 L37.40,267.10 L36.79,266.40 L36.35,265.66 L36.09,264.89 L36.00,264.00 L36.09,263.11 L36.35,262.34 L36.79,261.60 L37.40,260.90 L38.18,260.22 L39.13,259.57 L40.24,258.95 L41.52,258.36 L42.95,257.79 L44.54,257.25 L46.28,256.74 L48.16,256.26 L50.18,255.82 L52.34,255.41 L54.63,255.04 L57.04,254.70 L59.56,254.40 L62.21,254.14 L64.96,253.91 L67.83,253.73 L70.81,253.59 L73.93,253.48 L77.23,253.42 L81.00,253.40 L84.77,253.42 L88.07,253.48 L91.19,253.59 L94.17,253.73 L97.04,253.91 L99.79,254.14 L102.44,254.40 L104.96,254.70 L107.37,255.04 L109.66,255.41 L111.82,255.82 L113.84,256.26 L115.72,256.74 L117.46,257.25 L119.05,257.79 L120.48,258.36 L121.76,258.95 L122.87,259.57 L123.82,260.22 L124.60,260.90 L125.21,261.60 L125.65,262.34 L125.91,263.11Z" fill="#e8d234"/>
<path d="M124.88,264.00 L124.79,264.79 L124.54,265.49 L124.11,266.15 L123.52,266.77 L122.76,267.38 L121.83,267.96 L120.75,268.52 L119.50,269.05 L118.10,269.56 L116.55,270.04 L114.86,270.49 L113.02,270.92 L111.05,271.31 L108.95,271.68 L106.72,272.02 L104.37,272.32 L101.90,272.59 L99.32,272.82 L96.64,273.02 L93.84,273.19 L90.93,273.31 L87.89,273.41 L84.68,273.46 L81.00,273.48 L77.32,273.46 L74.11,273.41 L71.07,273.31 L68.16,273.19 L65.36,273.02 L62.68,272.82 L60.10,272.59 L57.63,272.32 L55.28,272.02 L53.05,271.68 L50.95,271.31 L48.98,270.92 L47.14,270.49 L45.45,270.04 L43.90,269.56 L42.50,269.05 L41.25,268.52 L40.17,267.96 L39.24,267.38 L38.48,266.77 L37.89,266.15 L37.46,265.49 L37.21,264.79 L37.12,264.00 L37.21,263.21 L37.46,262.51 L37.89,261.85 L38.48,261.23 L39.24,260.62 L40.17,260.04 L41.25,259.48 L42.50,258.95 L43.90,258.44 L45.45,257.96 L47.14,257.51 L48.98,257.08 L50.95,256.69 L53.05,256.32 L55.28,255.98 L57.63,255.68 L60.10,255.41 L62.68,255.18 L65.36,254.98 L68.16,254.81 L71.07,254.69 L74.11,254.59 L77.32,254.54 L81.00,254.52 L84.68,254.54 L87.89,254.59 L90.93,254.69 L93.84,254.81 L96.64,254.98 L99.32,255.18 L101.90,255.41 L104.37,255.68 L106.72,255.98 L108.95,256.32 L111.05,256.69 L113.02,257.08 L114.86,257.51 L116.55,257.96 L118.10,258.44 L119.50,258.95 L120.75,259.48 L121.83,260.04 L122.76,260.62 L123.52,261.23 L124.11,261.85 L124.54,262.51 L124.79,263.21Z" fill="url(#gd3)"/>
<rect x="49.76" y="255.60" width="4.4" height="1.6" fill="#b00c08" opacity="0.85"/>
<rect x="107.84" y="255.60" width="4.4" height="1.6" fill="#b00c08" opacity="0.85"/>
<rect x="41.57" y="258.20" width="4.4" height="1.6" fill="#b00c08" opacity="0.85"/>
<rect x="116.03" y="258.20" width="4.4" height="1.6" fill="#b00c08" opacity="0.85"/>
<rect x="37.88" y="260.80" width="4.4" height="1.6" fill="#b00c08" opacity="0.85"/>
<rect x="119.72" y="260.80" width="4.4" height="1.6" fill="#b00c08" opacity="0.85"/>
<rect x="37.88" y="266.00" width="4.4" height="1.6" fill="#b00c08" opacity="0.85"/>
<rect x="119.72" y="266.00" width="4.4" height="1.6" fill="#b00c08" opacity="0.85"/>
<rect x="41.57" y="268.60" width="4.4" height="1.6" fill="#b00c08" opacity="0.85"/>
<rect x="116.03" y="268.60" width="4.4" height="1.6" fill="#b00c08" opacity="0.85"/>
<rect x="49.76" y="271.20" width="4.4" height="1.6" fill="#b00c08" opacity="0.85"/>
<rect x="107.84" y="271.20" width="4.4" height="1.6" fill="#b00c08" opacity="0.85"/>
<line x1="38.13" y1="260.10" x2="33.13" y2="260.10" stroke="#50c8f0" stroke-width="0.7" opacity="0.7"/>
<line x1="123.87" y1="260.10" x2="128.87" y2="260.10" stroke="#50c8f0" stroke-width="0.7" opacity="0.7"/>
<line x1="35.91" y1="262.70" x2="30.91" y2="262.70" stroke="#50c8f0" stroke-width="0.7" opacity="0.7"/>
<line x1="126.09" y1="262.70" x2="131.09" y2="262.70" stroke="#50c8f0" stroke-width="0.7" opacity="0.7"/>
<line x1="35.91" y1="265.30" x2="30.91" y2="265.30" stroke="#50c8f0" stroke-width="0.7" opacity="0.7"/>
<line x1="126.09" y1="265.30" x2="131.09" y2="265.30" stroke="#50c8f0" stroke-width="0.7" opacity="0.7"/>
<line x1="38.13" y1="267.90" x2="33.13" y2="267.90" stroke="#50c8f0" stroke-width="0.7" opacity="0.7"/>
<line x1="123.87" y1="267.90" x2="128.87" y2="267.90" stroke="#50c8f0" stroke-width="0.7" opacity="0.7"/>
</g>
<rect x="21.650000000000002" y="233.95" width="118.8" height="59.3" fill="none" stroke="#000058" stroke-width="0.7"/>
</g>
<text x="135.4" y="290.0" font-size="9.6" letter-spacing="0.2" fill="#f2f2fa" stroke="#f2f2fa" stroke-width="0.22" text-anchor="end"><tspan font-style="italic" font-family="Liberation Serif" font-size="9.4">t</tspan> = 10 s</text>
<g clip-path="url(#cp31)">
<rect x="149.5" y="233.6" width="119.5" height="60" fill="#01027f"/>
<g filter="url(#bl3)"><ellipse cx="209.60" cy="264.30" rx="51.80" ry="11.90" fill="#1a3ae8" opacity="0.55"/></g>
<g filter="url(#bl1)">
<ellipse cx="209.60" cy="264.30" rx="43.60" ry="10.20" fill="#2ab8e8"/>
<ellipse cx="209.60" cy="264.30" rx="41.20" ry="9.60" fill="#98d24c"/>
<ellipse cx="209.60" cy="264.30" rx="38.60" ry="9.00" fill="#ccc830"/>
<ellipse cx="209.60" cy="264.30" rx="36.20" ry="8.40" fill="url(#gh3)"/>
</g>
<rect x="149.85" y="233.95" width="118.8" height="59.3" fill="none" stroke="#000058" stroke-width="0.7"/>
</g>
<text x="263.6" y="290.0" font-size="9.6" letter-spacing="0.2" fill="#f2f2fa" stroke="#f2f2fa" stroke-width="0.22" text-anchor="end"><tspan font-style="italic" font-family="Liberation Serif" font-size="9.4">t</tspan> = 10 s</text>
<text x="0" y="0" font-size="9" fill="#3a3a3a" text-anchor="middle" transform="translate(16.8 263.3) rotate(-90)" stroke="#3a3a3a" stroke-width="0.28"><tspan class="serif" font-style="italic" font-size="10">ϕ</tspan> = 6%</text>
<rect x="22.3" y="16.3" width="38" height="16.4" fill="#2a7cc4"/>
<rect x="22.3" y="18.4" width="38" height="1.4" fill="#64a2ac"/>
<rect x="22.3" y="22.3" width="38" height="1.4" fill="#64a2ac"/>
<rect x="22.3" y="26.2" width="38" height="1.4" fill="#64a2ac"/>
<rect x="22.3" y="30.1" width="38" height="1.4" fill="#64a2ac"/>
<circle cx="41.6" cy="24.5" r="3.9" fill="#f0e8ea"/><circle cx="41.6" cy="24.5" r="2.5" fill="#e25a30"/><circle cx="41.6" cy="24.5" r="1.3" fill="#d84020"/>
<rect x="151.8" y="16.4" width="38.5" height="16.9" fill="#1a88d8"/>
<circle cx="170.9" cy="24.8" r="3.9" fill="#f2f0f6"/><circle cx="170.9" cy="24.8" r="2.3" fill="#e64440"/>
<line x1="81.1" y1="44.8" x2="81.1" y2="32" stroke="#000" stroke-width="1.1"/>
<path d="M79.3,33.5 L81.1,29.6 L82.9,33.5 Z" fill="#000"/>
<line x1="81.1" y1="44.8" x2="107.5" y2="44.8" stroke="#000" stroke-width="1.1"/>
<path d="M106.5,43 L110.6,44.8 L106.5,46.6 Z" fill="#000"/>
<text x="71.5" y="24.5" class="serif" font-size="12" font-style="italic" fill="#fff">x<tspan font-size="8" dy="2.2" font-style="normal" font-family="Liberation Sans" font-weight="bold">f,⊥</tspan></text>
<text x="116.3" y="46" class="serif" font-size="12" font-style="italic" fill="#fff">x<tspan font-size="8" dy="2.2" font-style="normal" font-family="Liberation Sans" font-weight="bold">f,||</tspan></text>
<rect x="275.7" y="136.6" width="5.1" height="35.1" fill="url(#jet)" stroke="#222" stroke-width="0.4"/>
<text x="270.6" y="125.3" font-size="8.2" fill="#262626" stroke="#262626" stroke-width="0.28"><tspan class="serif" font-style="italic" font-size="9.2">T</tspan> (°C)</text>
<text x="278.6" y="135" font-size="8.8" fill="#262626" text-anchor="middle" stroke="#262626" stroke-width="0.28">250</text>
<text x="278.5" y="181.4" font-size="8.8" fill="#262626" text-anchor="middle" stroke="#262626" stroke-width="0.28">20</text>
<text x="298.8" y="7.2" font-size="9.8" fill="#262626" stroke="#262626" stroke-width="0.28">(b)</text>
<g clip-path="url(#clipb)" fill="none">
<polyline points="339.70,123.99 340.35,123.65 341.01,123.30 341.66,122.94 342.31,122.57 342.96,122.19 343.62,121.81 344.27,121.42 344.92,121.02 345.57,120.62 346.23,120.20 346.88,119.78 347.53,119.36 348.18,118.92 348.84,118.48 349.49,118.03 350.14,117.58 350.79,117.12 351.45,116.65 352.10,116.17 352.75,115.69 353.40,115.21 354.06,114.71 354.71,114.22 355.36,113.71 356.01,113.20 356.67,112.69 357.32,112.17 357.97,111.64 358.63,111.10 359.28,110.55 359.93,109.99 360.58,109.42 361.24,108.84 361.89,108.25 362.54,107.65 363.19,107.04 363.85,106.43 364.50,105.80 365.15,105.17 365.80,104.53 366.46,103.88 367.11,103.22 367.76,102.56 368.41,101.89 369.07,101.22 369.72,100.53 370.37,99.84 371.02,99.15 371.68,98.45 372.33,97.74 372.98,97.03 373.63,96.31 374.29,95.59 374.94,94.86 375.59,94.13 376.24,93.39 376.90,92.65 377.55,91.91 378.20,91.16 378.86,90.41 379.51,89.66 380.16,88.90 380.81,88.13 381.47,87.35 382.12,86.56 382.77,85.76 383.42,84.96 384.08,84.14 384.73,83.32 385.38,82.49 386.03,81.66 386.69,80.82 387.34,79.97 387.99,79.11 388.64,78.25 389.30,77.38 389.95,76.50 390.60,75.62 391.25,74.73 391.91,73.84 392.56,72.94 393.21,72.04 393.86,71.13 394.52,70.22 395.17,69.30 395.82,68.38 396.48,67.45 397.13,66.52 397.78,65.59 398.43,64.65 399.09,63.71 399.74,62.77 400.39,61.83 401.04,60.88 401.70,59.93 402.35,58.97 403.00,58.02 403.65,57.06 404.31,56.10 404.96,55.14 405.61,54.18 406.26,53.22 406.92,52.25 407.57,51.29 408.22,50.32 408.87,49.36 409.53,48.39 410.18,47.43 410.83,46.47 411.48,45.50 412.14,44.54 412.79,43.58 413.44,42.62 414.09,41.66 414.75,40.70 415.40,39.74 416.05,38.79 416.71,37.84 417.36,36.89 418.01,35.94 418.66,35.00 419.32,34.06 419.97,33.12 420.62,32.19 421.27,31.25 421.93,30.32 422.58,29.38 423.23,28.43 423.88,27.49 424.54,26.54 425.19,25.59 425.84,24.63 426.49,23.68 427.15,22.73 427.80,21.78 428.45,20.82 429.10,19.87 429.76,18.93 430.41,17.98 431.06,17.04 431.71,16.10 432.37,15.17 433.02,14.24 433.67,13.31 434.33,12.39 434.98,11.47 435.63,10.55 436.28,9.64 436.94,8.72 437.59,7.81" stroke="#80dcf2" stroke-width="1.2" stroke-dasharray="3,1.6"/>
<polyline points="339.70,123.99 340.36,123.65 341.02,123.30 341.69,122.94 342.35,122.58 343.01,122.21 343.67,121.84 344.33,121.46 345.00,121.08 345.66,120.68 346.32,120.29 346.98,119.88 347.64,119.47 348.30,119.06 348.97,118.64 349.63,118.21 350.29,117.78 350.95,117.34 351.61,116.90 352.28,116.45 352.94,116.00 353.60,115.54 354.26,115.08 354.92,114.61 355.59,114.13 356.25,113.65 356.91,113.17 357.57,112.68 358.23,112.18 358.90,111.68 359.56,111.17 360.22,110.65 360.88,110.13 361.54,109.60 362.20,109.07 362.87,108.53 363.53,107.98 364.19,107.43 364.85,106.87 365.51,106.30 366.18,105.73 366.84,105.15 367.50,104.57 368.16,103.98 368.82,103.38 369.49,102.78 370.15,102.17 370.81,101.55 371.47,100.93 372.13,100.30 372.80,99.67 373.46,99.03 374.12,98.38 374.78,97.73 375.44,97.07 376.11,96.41 376.77,95.74 377.43,95.07 378.09,94.38 378.75,93.70 379.41,93.00 380.08,92.30 380.74,91.60 381.40,90.89 382.06,90.17 382.72,89.45 383.39,88.71 384.05,87.97 384.71,87.21 385.37,86.44 386.03,85.67 386.70,84.88 387.36,84.09 388.02,83.28 388.68,82.47 389.34,81.65 390.01,80.81 390.67,79.97 391.33,79.13 391.99,78.27 392.65,77.41 393.31,76.53 393.98,75.66 394.64,74.77 395.30,73.88 395.96,72.98 396.62,72.07 397.29,71.16 397.95,70.24 398.61,69.31 399.27,68.38 399.93,67.44 400.60,66.50 401.26,65.55 401.92,64.60 402.58,63.65 403.24,62.69 403.91,61.72 404.57,60.75 405.23,59.78 405.89,58.80 406.55,57.82 407.21,56.84 407.88,55.85 408.54,54.86 409.20,53.87 409.86,52.88 410.52,51.88 411.19,50.88 411.85,49.88 412.51,48.88 413.17,47.88 413.83,46.87 414.50,45.87 415.16,44.87 415.82,43.86 416.48,42.85 417.14,41.85 417.81,40.84 418.47,39.84 419.13,38.83 419.79,37.83 420.45,36.83 421.11,35.82 421.78,34.82 422.44,33.83 423.10,32.83 423.76,31.84 424.42,30.84 425.09,29.85 425.75,28.86 426.41,27.86 427.07,26.85 427.73,25.83 428.40,24.81 429.06,23.78 429.72,22.75 430.38,21.71 431.04,20.67 431.71,19.62 432.37,18.57 433.03,17.52 433.69,16.46 434.35,15.40 435.01,14.34 435.68,13.27 436.34,12.19 437.00,11.10 437.66,10.01 438.32,8.91 438.99,7.81" stroke="#36c6ea" stroke-width="1.3"/>
<polyline points="339.70,123.99 341.48,123.68 343.27,123.37 345.05,123.06 346.83,122.74 348.61,122.41 350.40,122.08 352.18,121.75 353.96,121.41 355.75,121.07 357.53,120.72 359.31,120.37 361.10,120.01 362.88,119.65 364.66,119.29 366.44,118.92 368.23,118.55 370.01,118.17 371.79,117.78 373.58,117.40 375.36,117.00 377.14,116.61 378.93,116.21 380.71,115.80 382.49,115.39 384.27,114.98 386.06,114.56 387.84,114.14 389.62,113.71 391.41,113.28 393.19,112.84 394.97,112.40 396.75,111.95 398.54,111.50 400.32,111.05 402.10,110.59 403.89,110.13 405.67,109.66 407.45,109.19 409.24,108.71 411.02,108.23 412.80,107.74 414.58,107.25 416.37,106.76 418.15,106.26 419.93,105.75 421.72,105.25 423.50,104.73 425.28,104.22 427.07,103.69 428.85,103.17 430.63,102.64 432.41,102.10 434.20,101.56 435.98,101.02 437.76,100.47 439.55,99.92 441.33,99.36 443.11,98.80 444.89,98.23 446.68,97.66 448.46,97.09 450.24,96.51 452.03,95.92 453.81,95.33 455.59,94.74 457.38,94.14 459.16,93.54 460.94,92.93 462.72,92.32 464.51,91.70 466.29,91.08 468.07,90.46 469.86,89.83 471.64,89.20 473.42,88.56 475.20,87.92 476.99,87.27 478.77,86.62 480.55,85.96 482.34,85.30 484.12,84.64 485.90,83.97 487.69,83.29 489.47,82.61 491.25,81.93 493.03,81.24 494.82,80.55 496.60,79.86 498.38,79.15 500.17,78.45 501.95,77.74 503.73,77.03 505.52,76.31 507.30,75.58 509.08,74.86 510.86,74.12 512.65,73.39 514.43,72.65 516.21,71.90 518.00,71.15" stroke="#80dcf2" stroke-width="1.2" stroke-dasharray="3,1.6"/>
<polyline points="339.70,123.99 341.48,123.74 343.27,123.48 345.05,123.22 346.83,122.95 348.61,122.69 350.40,122.41 352.18,122.13 353.96,121.85 355.75,121.56 357.53,121.27 359.31,120.98 361.10,120.68 362.88,120.37 364.66,120.06 366.44,119.75 368.23,119.43 370.01,119.11 371.79,118.78 373.58,118.45 375.36,118.12 377.14,117.78 378.93,117.43 380.71,117.09 382.49,116.73 384.27,116.38 386.06,116.02 387.84,115.65 389.62,115.28 391.41,114.91 393.19,114.53 394.97,114.14 396.75,113.76 398.54,113.37 400.32,112.97 402.10,112.57 403.89,112.16 405.67,111.76 407.45,111.34 409.24,110.92 411.02,110.50 412.80,110.08 414.58,109.64 416.37,109.21 418.15,108.77 419.93,108.33 421.72,107.88 423.50,107.42 425.28,106.97 427.07,106.51 428.85,106.04 430.63,105.57 432.41,105.10 434.20,104.62 435.98,104.13 437.76,103.65 439.55,103.15 441.33,102.66 443.11,102.16 444.89,101.65 446.68,101.14 448.46,100.63 450.24,100.11 452.03,99.59 453.81,99.06 455.59,98.53 457.38,97.99 459.16,97.45 460.94,96.91 462.72,96.36 464.51,95.81 466.29,95.25 468.07,94.69 469.86,94.12 471.64,93.55 473.42,92.98 475.20,92.40 476.99,91.82 478.77,91.23 480.55,90.64 482.34,90.04 484.12,89.44 485.90,88.83 487.69,88.22 489.47,87.61 491.25,86.99 493.03,86.37 494.82,85.74 496.60,85.11 498.38,84.47 500.17,83.83 501.95,83.19 503.73,82.54 505.52,81.89 507.30,81.23 509.08,80.57 510.86,79.90 512.65,79.23 514.43,78.56 516.21,77.88 518.00,77.19" stroke="#36c6ea" stroke-width="1.3"/>
<polyline points="339.70,123.99 340.40,123.63 341.10,123.26 341.80,122.89 342.50,122.51 343.20,122.13 343.90,121.74 344.59,121.35 345.29,120.95 345.99,120.55 346.69,120.14 347.39,119.73 348.09,119.31 348.79,118.89 349.49,118.46 350.19,118.03 350.89,117.59 351.59,117.15 352.29,116.70 352.98,116.25 353.68,115.79 354.38,115.33 355.08,114.86 355.78,114.39 356.48,113.91 357.18,113.43 357.88,112.94 358.58,112.45 359.28,111.96 359.98,111.46 360.68,110.96 361.38,110.45 362.07,109.94 362.77,109.43 363.47,108.91 364.17,108.39 364.87,107.86 365.57,107.33 366.27,106.79 366.97,106.25 367.67,105.70 368.37,105.15 369.07,104.59 369.77,104.03 370.46,103.46 371.16,102.88 371.86,102.30 372.56,101.72 373.26,101.12 373.96,100.53 374.66,99.92 375.36,99.31 376.06,98.69 376.76,98.07 377.46,97.44 378.16,96.80 378.86,96.15 379.55,95.50 380.25,94.84 380.95,94.17 381.65,93.50 382.35,92.82 383.05,92.13 383.75,91.43 384.45,90.72 385.15,90.01 385.85,89.28 386.55,88.54 387.25,87.79 387.94,87.01 388.64,86.23 389.34,85.43 390.04,84.62 390.74,83.79 391.44,82.95 392.14,82.10 392.84,81.24 393.54,80.36 394.24,79.48 394.94,78.58 395.64,77.67 396.34,76.75 397.03,75.83 397.73,74.89 398.43,73.94 399.13,72.99 399.83,72.02 400.53,71.05 401.23,70.07 401.93,69.09 402.63,68.09 403.33,67.09 404.03,66.09 404.73,65.08 405.42,64.06 406.12,63.04 406.82,62.01 407.52,60.98 408.22,59.95 408.92,58.91 409.62,57.87 410.32,56.82 411.02,55.78 411.72,54.73 412.42,53.68 413.12,52.63 413.82,51.57 414.51,50.52 415.21,49.47 415.91,48.42 416.61,47.37 417.31,46.32 418.01,45.27 418.71,44.22 419.41,43.17 420.11,42.13 420.81,41.09 421.51,40.05 422.21,39.02 422.90,37.99 423.60,36.97 424.30,35.95 425.00,34.93 425.70,33.92 426.40,32.92 427.10,31.92 427.80,30.92 428.50,29.92 429.20,28.92 429.90,27.91 430.60,26.90 431.30,25.88 431.99,24.87 432.69,23.85 433.39,22.83 434.09,21.81 434.79,20.79 435.49,19.77 436.19,18.75 436.89,17.74 437.59,16.72 438.29,15.71 438.99,14.70 439.69,13.69 440.38,12.69 441.08,11.68 441.78,10.68 442.48,9.67 443.18,8.67 443.88,7.67 444.58,6.66" stroke="#5eaae0" stroke-width="1.2" stroke-dasharray="3,1.6"/>
<polyline points="339.70,123.99 340.42,123.63 341.14,123.26 341.85,122.89 342.57,122.52 343.29,122.14 344.01,121.76 344.72,121.37 345.44,120.98 346.16,120.58 346.88,120.18 347.60,119.77 348.31,119.36 349.03,118.94 349.75,118.52 350.47,118.10 351.19,117.67 351.90,117.23 352.62,116.79 353.34,116.35 354.06,115.90 354.77,115.45 355.49,114.99 356.21,114.52 356.93,114.05 357.65,113.58 358.36,113.10 359.08,112.62 359.80,112.14 360.52,111.65 361.24,111.16 361.95,110.67 362.67,110.18 363.39,109.67 364.11,109.17 364.82,108.66 365.54,108.15 366.26,107.63 366.98,107.11 367.70,106.59 368.41,106.06 369.13,105.52 369.85,104.98 370.57,104.44 371.29,103.89 372.00,103.33 372.72,102.77 373.44,102.20 374.16,101.63 374.87,101.05 375.59,100.47 376.31,99.88 377.03,99.29 377.75,98.68 378.46,98.08 379.18,97.46 379.90,96.84 380.62,96.21 381.34,95.58 382.05,94.94 382.77,94.29 383.49,93.63 384.21,92.97 384.92,92.30 385.64,91.62 386.36,90.93 387.08,90.24 387.80,89.54 388.51,88.82 389.23,88.09 389.95,87.35 390.67,86.59 391.38,85.82 392.10,85.04 392.82,84.25 393.54,83.45 394.26,82.63 394.97,81.80 395.69,80.96 396.41,80.12 397.13,79.26 397.85,78.39 398.56,77.51 399.28,76.62 400.00,75.72 400.72,74.82 401.43,73.90 402.15,72.98 402.87,72.05 403.59,71.11 404.31,70.17 405.02,69.21 405.74,68.25 406.46,67.29 407.18,66.31 407.90,65.33 408.61,64.35 409.33,63.36 410.05,62.36 410.77,61.36 411.48,60.36 412.20,59.35 412.92,58.34 413.64,57.32 414.36,56.30 415.07,55.28 415.79,54.25 416.51,53.22 417.23,52.19 417.95,51.16 418.66,50.13 419.38,49.09 420.10,48.05 420.82,47.02 421.53,45.98 422.25,44.94 422.97,43.90 423.69,42.86 424.41,41.83 425.12,40.79 425.84,39.75 426.56,38.72 427.28,37.69 427.99,36.66 428.71,35.63 429.43,34.60 430.15,33.55 430.87,32.49 431.58,31.42 432.30,30.33 433.02,29.23 433.74,28.12 434.46,27.01 435.17,25.89 435.89,24.77 436.61,23.65 437.33,22.53 438.04,21.41 438.76,20.30 439.48,19.19 440.20,18.10 440.92,17.02 441.63,15.95 442.35,14.89 443.07,13.85 443.79,12.82 444.51,11.81 445.22,10.80 445.94,9.80 446.66,8.80 447.38,7.81" stroke="#2e86d0" stroke-width="1.3"/>
<polyline points="339.70,123.99 341.35,123.60 343.00,123.20 344.65,122.80 346.30,122.40 347.95,122.00 349.60,121.59 351.25,121.18 352.90,120.77 354.55,120.35 356.20,119.93 357.85,119.50 359.50,119.08 361.15,118.65 362.80,118.21 364.45,117.78 366.10,117.34 367.75,116.90 369.40,116.45 371.05,116.00 372.70,115.55 374.35,115.09 376.00,114.63 377.65,114.17 379.30,113.71 380.95,113.24 382.60,112.77 384.25,112.29 385.90,111.81 387.55,111.33 389.20,110.85 390.85,110.36 392.50,109.87 394.15,109.37 395.80,108.88 397.45,108.38 399.10,107.87 400.75,107.37 402.40,106.86 404.05,106.34 405.70,105.83 407.35,105.31 409.00,104.78 410.65,104.26 412.30,103.73 413.96,103.20 415.61,102.66 417.26,102.12 418.91,101.58 420.56,101.03 422.21,100.49 423.86,99.94 425.51,99.38 427.16,98.82 428.81,98.26 430.46,97.70 432.11,97.13 433.76,96.56 435.41,95.98 437.06,95.41 438.71,94.83 440.36,94.24 442.01,93.66 443.66,93.07 445.31,92.47 446.96,91.88 448.61,91.28 450.26,90.67 451.91,90.07 453.56,89.46 455.21,88.85 456.86,88.23 458.51,87.61 460.16,86.99 461.81,86.37 463.46,85.74 465.11,85.11 466.76,84.47 468.41,83.83 470.06,83.19 471.71,82.55 473.36,81.90 475.01,81.25 476.66,80.60 478.31,79.94 479.96,79.28 481.61,78.62 483.26,77.95 484.91,77.28 486.56,76.61 488.21,75.93 489.86,75.25 491.51,74.57 493.16,73.88 494.81,73.19 496.46,72.50 498.11,71.80 499.76,71.11 501.41,70.40 503.06,69.70 504.71,68.99" stroke="#5eaae0" stroke-width="1.2" stroke-dasharray="3,1.6"/>
<polyline points="339.70,123.99 341.35,123.64 343.00,123.28 344.65,122.92 346.30,122.56 347.95,122.19 349.60,121.82 351.25,121.45 352.90,121.08 354.55,120.70 356.20,120.32 357.85,119.94 359.50,119.55 361.15,119.16 362.80,118.77 364.45,118.38 366.10,117.98 367.75,117.58 369.40,117.17 371.05,116.77 372.70,116.36 374.35,115.94 376.00,115.53 377.65,115.11 379.30,114.69 380.95,114.27 382.60,113.84 384.25,113.41 385.90,112.97 387.55,112.54 389.20,112.10 390.85,111.66 392.50,111.21 394.15,110.77 395.80,110.31 397.45,109.86 399.10,109.40 400.75,108.94 402.40,108.48 404.05,108.02 405.70,107.55 407.35,107.08 409.00,106.60 410.65,106.13 412.30,105.65 413.96,105.16 415.61,104.68 417.26,104.19 418.91,103.70 420.56,103.20 422.21,102.70 423.86,102.20 425.51,101.70 427.16,101.19 428.81,100.68 430.46,100.17 432.11,99.65 433.76,99.14 435.41,98.61 437.06,98.09 438.71,97.56 440.36,97.03 442.01,96.50 443.66,95.96 445.31,95.42 446.96,94.88 448.61,94.34 450.26,93.79 451.91,93.24 453.56,92.69 455.21,92.13 456.86,91.57 458.51,91.01 460.16,90.44 461.81,89.87 463.46,89.30 465.11,88.73 466.76,88.15 468.41,87.57 470.06,86.99 471.71,86.40 473.36,85.81 475.01,85.22 476.66,84.63 478.31,84.03 479.96,83.43 481.61,82.82 483.26,82.22 484.91,81.61 486.56,80.99 488.21,80.38 489.86,79.76 491.51,79.14 493.16,78.52 494.81,77.89 496.46,77.26 498.11,76.62 499.76,75.99 501.41,75.35 503.06,74.71 504.71,74.06" stroke="#2e86d0" stroke-width="1.3"/>
<polyline points="339.70,123.99 340.45,123.63 341.19,123.27 341.94,122.90 342.68,122.52 343.43,122.15 344.17,121.77 344.92,121.38 345.67,120.99 346.41,120.59 347.16,120.19 347.90,119.79 348.65,119.38 349.40,118.96 350.14,118.54 350.89,118.12 351.63,117.69 352.38,117.26 353.12,116.82 353.87,116.38 354.62,115.93 355.36,115.47 356.11,115.01 356.85,114.55 357.60,114.08 358.35,113.61 359.09,113.14 359.84,112.66 360.58,112.18 361.33,111.70 362.07,111.22 362.82,110.73 363.57,110.24 364.31,109.74 365.06,109.25 365.80,108.74 366.55,108.24 367.30,107.73 368.04,107.21 368.79,106.70 369.53,106.17 370.28,105.64 371.02,105.11 371.77,104.57 372.52,104.03 373.26,103.48 374.01,102.92 374.75,102.36 375.50,101.80 376.24,101.23 376.99,100.65 377.74,100.06 378.48,99.47 379.23,98.87 379.97,98.27 380.72,97.65 381.47,97.03 382.21,96.41 382.96,95.77 383.70,95.13 384.45,94.48 385.19,93.82 385.94,93.16 386.69,92.48 387.43,91.80 388.18,91.11 388.92,90.41 389.67,89.70 390.42,88.97 391.16,88.22 391.91,87.45 392.65,86.66 393.40,85.86 394.14,85.04 394.89,84.20 395.64,83.34 396.38,82.47 397.13,81.58 397.87,80.68 398.62,79.77 399.37,78.84 400.11,77.90 400.86,76.95 401.60,75.98 402.35,75.01 403.09,74.02 403.84,73.02 404.59,72.02 405.33,71.00 406.08,69.98 406.82,68.95 407.57,67.91 408.31,66.87 409.06,65.82 409.81,64.77 410.55,63.71 411.30,62.65 412.04,61.58 412.79,60.51 413.54,59.44 414.28,58.37 415.03,57.29 415.77,56.22 416.52,55.14 417.26,54.07 418.01,52.99 418.76,51.92 419.50,50.85 420.25,49.79 420.99,48.72 421.74,47.66 422.49,46.61 423.23,45.56 423.98,44.52 424.72,43.48 425.47,42.45 426.21,41.43 426.96,40.42 427.71,39.41 428.45,38.42 429.20,37.43 429.94,36.45 430.69,35.48 431.44,34.52 432.18,33.55 432.93,32.59 433.67,31.63 434.42,30.68 435.16,29.72 435.91,28.77 436.66,27.82 437.40,26.86 438.15,25.90 438.89,24.95 439.64,23.99 440.38,23.02 441.13,22.06 441.88,21.09 442.62,20.11 443.37,19.13 444.11,18.14 444.86,17.15 445.61,16.15 446.35,15.14 447.10,14.13 447.84,13.10 448.59,12.05 449.33,11.00 450.08,9.94 450.83,8.88 451.57,7.81" stroke="#28609f" stroke-width="1.2" stroke-dasharray="3,1.6"/>
<polyline points="339.70,123.99 340.46,123.63 341.21,123.27 341.97,122.91 342.72,122.54 343.48,122.17 344.23,121.79 344.99,121.41 345.74,121.02 346.50,120.63 347.25,120.23 348.01,119.83 348.76,119.43 349.52,119.02 350.27,118.60 351.03,118.18 351.78,117.76 352.54,117.33 353.29,116.89 354.05,116.45 354.80,116.01 355.56,115.56 356.31,115.10 357.07,114.64 357.82,114.18 358.58,113.71 359.33,113.25 360.09,112.77 360.84,112.30 361.60,111.82 362.35,111.34 363.11,110.86 363.86,110.38 364.62,109.89 365.37,109.39 366.13,108.90 366.88,108.40 367.64,107.89 368.40,107.38 369.15,106.87 369.91,106.35 370.66,105.83 371.42,105.30 372.17,104.77 372.93,104.23 373.68,103.69 374.44,103.14 375.19,102.58 375.95,102.02 376.70,101.46 377.46,100.88 378.21,100.30 378.97,99.72 379.72,99.13 380.48,98.53 381.23,97.92 381.99,97.31 382.74,96.69 383.50,96.06 384.25,95.42 385.01,94.78 385.76,94.12 386.52,93.46 387.27,92.80 388.03,92.12 388.78,91.43 389.54,90.74 390.29,90.04 391.05,89.32 391.80,88.58 392.56,87.82 393.31,87.04 394.07,86.24 394.82,85.43 395.58,84.59 396.34,83.74 397.09,82.88 397.85,81.99 398.60,81.10 399.36,80.18 400.11,79.26 400.87,78.32 401.62,77.37 402.38,76.40 403.13,75.43 403.89,74.44 404.64,73.44 405.40,72.43 406.15,71.42 406.91,70.39 407.66,69.36 408.42,68.32 409.17,67.27 409.93,66.22 410.68,65.16 411.44,64.10 412.19,63.03 412.95,61.96 413.70,60.89 414.46,59.81 415.21,58.74 415.97,57.66 416.72,56.58 417.48,55.50 418.23,54.42 418.99,53.34 419.74,52.27 420.50,51.20 421.25,50.13 422.01,49.06 422.76,48.00 423.52,46.94 424.28,45.89 425.03,44.85 425.79,43.81 426.54,42.78 427.30,41.75 428.05,40.74 428.81,39.74 429.56,38.74 430.32,37.76 431.07,36.78 431.83,35.80 432.58,34.83 433.34,33.86 434.09,32.89 434.85,31.92 435.60,30.96 436.36,29.99 437.11,29.03 437.87,28.06 438.62,27.10 439.38,26.13 440.13,25.16 440.89,24.19 441.64,23.21 442.40,22.23 443.15,21.25 443.91,20.26 444.66,19.27 445.42,18.27 446.17,17.26 446.93,16.25 447.68,15.23 448.44,14.20 449.19,13.16 449.95,12.11 450.70,11.04 451.46,9.97 452.22,8.89 452.97,7.81" stroke="#1b4c8c" stroke-width="1.3"/>
<polyline points="339.70,123.99 341.08,123.71 342.47,123.42 343.85,123.12 345.24,122.83 346.62,122.52 348.01,122.22 349.39,121.90 350.78,121.59 352.16,121.27 353.54,120.94 354.93,120.61 356.31,120.28 357.70,119.94 359.08,119.59 360.47,119.25 361.85,118.89 363.24,118.53 364.62,118.17 366.00,117.81 367.39,117.43 368.77,117.06 370.16,116.68 371.54,116.29 372.93,115.90 374.31,115.51 375.69,115.11 377.08,114.71 378.46,114.30 379.85,113.89 381.23,113.47 382.62,113.05 384.00,112.62 385.39,112.19 386.77,111.75 388.15,111.31 389.54,110.87 390.92,110.42 392.31,109.96 393.69,109.51 395.08,109.04 396.46,108.58 397.85,108.10 399.23,107.63 400.61,107.14 402.00,106.66 403.38,106.17 404.77,105.67 406.15,105.17 407.54,104.67 408.92,104.16 410.31,103.64 411.69,103.13 413.07,102.60 414.46,102.08 415.84,101.54 417.23,101.01 418.61,100.47 420.00,99.92 421.38,99.37 422.76,98.82 424.15,98.26 425.53,97.69 426.92,97.12 428.30,96.55 429.69,95.97 431.07,95.39 432.46,94.80 433.84,94.21 435.22,93.61 436.61,93.01 437.99,92.41 439.38,91.80 440.76,91.18 442.15,90.56 443.53,89.94 444.92,89.31 446.30,88.68 447.68,88.04 449.07,87.40 450.45,86.75 451.84,86.10 453.22,85.44 454.61,84.78 455.99,84.12 457.38,83.45 458.76,82.77 460.14,82.09 461.53,81.41 462.91,80.72 464.30,80.03 465.68,79.33 467.07,78.63 468.45,77.92 469.84,77.21 471.22,76.50 472.60,75.78 473.99,75.05 475.37,74.32 476.76,73.59 478.14,72.85" stroke="#28609f" stroke-width="1.2" stroke-dasharray="3,1.6"/>
<polyline points="339.70,123.99 341.08,123.71 342.47,123.44 343.85,123.15 345.24,122.86 346.62,122.57 348.01,122.27 349.39,121.97 350.78,121.66 352.16,121.35 353.54,121.04 354.93,120.72 356.31,120.39 357.70,120.06 359.08,119.73 360.47,119.39 361.85,119.05 363.24,118.70 364.62,118.35 366.00,117.99 367.39,117.63 368.77,117.27 370.16,116.90 371.54,116.53 372.93,116.15 374.31,115.76 375.69,115.38 377.08,114.98 378.46,114.59 379.85,114.19 381.23,113.78 382.62,113.37 384.00,112.96 385.39,112.54 386.77,112.11 388.15,111.69 389.54,111.25 390.92,110.82 392.31,110.38 393.69,109.93 395.08,109.48 396.46,109.02 397.85,108.56 399.23,108.10 400.61,107.63 402.00,107.16 403.38,106.68 404.77,106.20 406.15,105.71 407.54,105.22 408.92,104.73 410.31,104.23 411.69,103.72 413.07,103.21 414.46,102.70 415.84,102.18 417.23,101.66 418.61,101.13 420.00,100.60 421.38,100.06 422.76,99.52 424.15,98.98 425.53,98.43 426.92,97.87 428.30,97.32 429.69,96.75 431.07,96.18 432.46,95.61 433.84,95.04 435.22,94.46 436.61,93.87 437.99,93.28 439.38,92.68 440.76,92.09 442.15,91.48 443.53,90.87 444.92,90.26 446.30,89.64 447.68,89.02 449.07,88.40 450.45,87.77 451.84,87.13 453.22,86.49 454.61,85.85 455.99,85.20 457.38,84.55 458.76,83.89 460.14,83.23 461.53,82.56 462.91,81.89 464.30,81.21 465.68,80.53 467.07,79.85 468.45,79.16 469.84,78.47 471.22,77.77 472.60,77.07 473.99,76.36 475.37,75.65 476.76,74.93 478.14,74.21" stroke="#1b4c8c" stroke-width="1.3"/>
<polyline points="339.70,123.99 340.59,123.59 341.47,123.18 342.36,122.76 343.24,122.34 344.13,121.92 345.01,121.49 345.90,121.05 346.79,120.61 347.67,120.16 348.56,119.70 349.44,119.24 350.33,118.77 351.21,118.30 352.10,117.81 352.98,117.33 353.87,116.83 354.76,116.33 355.64,115.82 356.53,115.30 357.41,114.78 358.30,114.25 359.18,113.72 360.07,113.17 360.96,112.62 361.84,112.07 362.73,111.50 363.61,110.93 364.50,110.36 365.38,109.77 366.27,109.19 367.16,108.59 368.04,107.99 368.93,107.39 369.81,106.77 370.70,106.16 371.58,105.53 372.47,104.91 373.35,104.27 374.24,103.64 375.13,102.99 376.01,102.34 376.90,101.69 377.78,101.03 378.67,100.37 379.55,99.70 380.44,99.03 381.33,98.35 382.21,97.67 383.10,96.99 383.98,96.30 384.87,95.61 385.75,94.91 386.64,94.21 387.53,93.50 388.41,92.80 389.30,92.09 390.18,91.37 391.07,90.65 391.95,89.93 392.84,89.21 393.72,88.47 394.61,87.73 395.50,86.98 396.38,86.23 397.27,85.46 398.15,84.69 399.04,83.92 399.92,83.13 400.81,82.34 401.70,81.55 402.58,80.74 403.47,79.94 404.35,79.12 405.24,78.30 406.12,77.48 407.01,76.65 407.90,75.81 408.78,74.97 409.67,74.13 410.55,73.28 411.44,72.42 412.32,71.57 413.21,70.71 414.09,69.84 414.98,68.97 415.87,68.10 416.75,67.22 417.64,66.34 418.52,65.46 419.41,64.58 420.29,63.69 421.18,62.80 422.07,61.91 422.95,61.02 423.84,60.12 424.72,59.23 425.61,58.33 426.49,57.43 427.38,56.53 428.27,55.62 429.15,54.72 430.04,53.82 430.92,52.91 431.81,52.00 432.69,51.08 433.58,50.16 434.46,49.23 435.35,48.29 436.24,47.36 437.12,46.41 438.01,45.47 438.89,44.51 439.78,43.56 440.66,42.60 441.55,41.63 442.44,40.67 443.32,39.70 444.21,38.72 445.09,37.74 445.98,36.76 446.86,35.78 447.75,34.80 448.64,33.81 449.52,32.82 450.41,31.83 451.29,30.83 452.18,29.84 453.06,28.84 453.95,27.84 454.83,26.84 455.72,25.84 456.61,24.84 457.49,23.83 458.38,22.83 459.26,21.83 460.15,20.82 461.03,19.82 461.92,18.82 462.81,17.81 463.69,16.81 464.58,15.81 465.46,14.81 466.35,13.80 467.23,12.79 468.12,11.78 469.01,10.76 469.89,9.74 470.78,8.71 471.66,7.69 472.55,6.66" stroke="#101010" stroke-width="1.2" stroke-dasharray="3,1.6"/>
<polyline points="339.70,123.99 340.59,123.59 341.48,123.18 342.37,122.77 343.26,122.36 344.15,121.93 345.04,121.50 345.93,121.07 346.82,120.63 347.71,120.18 348.60,119.73 349.49,119.27 350.38,118.81 351.27,118.33 352.16,117.86 353.05,117.37 353.95,116.88 354.84,116.38 355.73,115.88 356.62,115.36 357.51,114.84 358.40,114.32 359.29,113.78 360.18,113.25 361.07,112.70 361.96,112.15 362.85,111.59 363.74,111.02 364.63,110.45 365.52,109.87 366.41,109.29 367.30,108.70 368.19,108.11 369.08,107.51 369.97,106.90 370.86,106.29 371.75,105.67 372.64,105.05 373.53,104.42 374.42,103.79 375.31,103.15 376.20,102.50 377.09,101.86 377.98,101.20 378.87,100.54 379.76,99.88 380.65,99.21 381.54,98.54 382.44,97.87 383.33,97.19 384.22,96.50 385.11,95.81 386.00,95.12 386.89,94.42 387.78,93.72 388.67,93.02 389.56,92.31 390.45,91.60 391.34,90.88 392.23,90.16 393.12,89.44 394.01,88.71 394.90,87.97 395.79,87.22 396.68,86.46 397.57,85.70 398.46,84.93 399.35,84.15 400.24,83.37 401.13,82.58 402.02,81.78 402.91,80.97 403.80,80.16 404.69,79.34 405.58,78.52 406.47,77.69 407.36,76.86 408.25,76.02 409.14,75.18 410.03,74.33 410.93,73.48 411.82,72.62 412.71,71.76 413.60,70.89 414.49,70.02 415.38,69.15 416.27,68.27 417.16,67.39 418.05,66.51 418.94,65.62 419.83,64.73 420.72,63.84 421.61,62.95 422.50,62.05 423.39,61.16 424.28,60.26 425.17,59.36 426.06,58.46 426.95,57.55 427.84,56.65 428.73,55.75 429.62,54.84 430.51,53.94 431.40,53.03 432.29,52.11 433.18,51.19 434.07,50.26 434.96,49.33 435.85,48.40 436.74,47.45 437.63,46.51 438.52,45.56 439.42,44.61 440.31,43.65 441.20,42.69 442.09,41.72 442.98,40.75 443.87,39.78 444.76,38.81 445.65,37.83 446.54,36.85 447.43,35.86 448.32,34.88 449.21,33.89 450.10,32.90 450.99,31.90 451.88,30.91 452.77,29.91 453.66,28.91 454.55,27.91 455.44,26.91 456.33,25.91 457.22,24.90 458.11,23.90 459.00,22.89 459.89,21.89 460.78,20.88 461.67,19.88 462.56,18.87 463.45,17.86 464.34,16.86 465.23,15.85 466.12,14.85 467.01,13.84 467.91,12.83 468.80,11.81 469.69,10.78 470.58,9.76 471.47,8.73 472.36,7.70 473.25,6.66" stroke="#101010" stroke-width="1.3"/>
<polyline points="339.70,123.99 340.97,123.72 342.25,123.44 343.52,123.16 344.79,122.88 346.06,122.59 347.34,122.30 348.61,122.00 349.88,121.69 351.15,121.38 352.43,121.07 353.70,120.75 354.97,120.42 356.24,120.09 357.52,119.76 358.79,119.42 360.06,119.07 361.33,118.72 362.61,118.37 363.88,118.01 365.15,117.64 366.42,117.27 367.70,116.90 368.97,116.52 370.24,116.13 371.51,115.74 372.79,115.35 374.06,114.95 375.33,114.55 376.60,114.14 377.88,113.72 379.15,113.30 380.42,112.88 381.69,112.45 382.97,112.01 384.24,111.57 385.51,111.13 386.78,110.68 388.06,110.22 389.33,109.77 390.60,109.30 391.87,108.83 393.15,108.36 394.42,107.88 395.69,107.39 396.96,106.90 398.24,106.41 399.51,105.91 400.78,105.41 402.05,104.90 403.33,104.38 404.60,103.86 405.87,103.34 407.14,102.81 408.42,102.27 409.69,101.73 410.96,101.19 412.24,100.64 413.51,100.09 414.78,99.53 416.05,98.96 417.33,98.39 418.60,97.82 419.87,97.24 421.14,96.66 422.42,96.07 423.69,95.47 424.96,94.87 426.23,94.27 427.51,93.66 428.78,93.05 430.05,92.43 431.32,91.80 432.60,91.17 433.87,90.54 435.14,89.90 436.41,89.26 437.69,88.61 438.96,87.95 440.23,87.29 441.50,86.63 442.78,85.96 444.05,85.29 445.32,84.61 446.59,83.92 447.87,83.23 449.14,82.54 450.41,81.84 451.68,81.14 452.96,80.43 454.23,79.71 455.50,79.00 456.77,78.27 458.05,77.54 459.32,76.81 460.59,76.07 461.86,75.33 463.14,74.58 464.41,73.82 465.68,73.06 466.95,72.30" stroke="#101010" stroke-width="1.2" stroke-dasharray="3,1.6"/>
<polyline points="339.70,123.99 340.97,123.72 342.25,123.45 343.52,123.18 344.79,122.90 346.06,122.62 347.34,122.33 348.61,122.03 349.88,121.73 351.15,121.43 352.43,121.12 353.70,120.80 354.97,120.48 356.24,120.16 357.52,119.83 358.79,119.49 360.06,119.15 361.33,118.81 362.61,118.46 363.88,118.10 365.15,117.74 366.42,117.38 367.70,117.01 368.97,116.63 370.24,116.25 371.51,115.87 372.79,115.48 374.06,115.09 375.33,114.69 376.60,114.28 377.88,113.87 379.15,113.46 380.42,113.04 381.69,112.61 382.97,112.18 384.24,111.75 385.51,111.31 386.78,110.86 388.06,110.42 389.33,109.96 390.60,109.50 391.87,109.04 393.15,108.57 394.42,108.09 395.69,107.61 396.96,107.13 398.24,106.64 399.51,106.15 400.78,105.65 402.05,105.14 403.33,104.63 404.60,104.12 405.87,103.60 407.14,103.07 408.42,102.54 409.69,102.01 410.96,101.47 412.24,100.93 413.51,100.38 414.78,99.82 416.05,99.26 417.33,98.70 418.60,98.13 419.87,97.56 421.14,96.98 422.42,96.39 423.69,95.80 424.96,95.21 426.23,94.61 427.51,94.01 428.78,93.40 430.05,92.78 431.32,92.16 432.60,91.54 433.87,90.91 435.14,90.28 436.41,89.64 437.69,88.99 438.96,88.34 440.23,87.69 441.50,87.03 442.78,86.37 444.05,85.70 445.32,85.02 446.59,84.34 447.87,83.66 449.14,82.97 450.41,82.28 451.68,81.58 452.96,80.87 454.23,80.17 455.50,79.45 456.77,78.73 458.05,78.01 459.32,77.28 460.59,76.55 461.86,75.81 463.14,75.06 464.41,74.31 465.68,73.56 466.95,72.80" stroke="#101010" stroke-width="1.3"/>
</g>
<rect x="339.7" y="14.7" width="174.8" height="114.8" fill="none" stroke="#1a1a1a" stroke-width="1.1"/>
<path d="M339.70,129.5 v-2.8 M357.18,129.5 v-1.6 M374.66,129.5 v-2.8 M392.14,129.5 v-1.6 M409.62,129.5 v-2.8 M427.10,129.5 v-1.6 M444.58,129.5 v-2.8 M462.06,129.5 v-1.6 M479.54,129.5 v-2.8 M497.02,129.5 v-1.6 M514.50,129.5 v-2.8 M339.7,129.50 h2.8 M339.7,118.02 h1.6 M339.7,106.54 h2.8 M339.7,95.06 h1.6 M339.7,83.58 h2.8 M339.7,72.10 h1.6 M339.7,60.62 h2.8 M339.7,49.14 h1.6 M339.7,37.66 h2.8 M339.7,26.18 h1.6 M339.7,14.70 h2.8" stroke="#1a1a1a" stroke-width="0.8" fill="none"/>
<text x="339.7" y="141" font-size="9.4" fill="#262626" text-anchor="middle" stroke="#262626" stroke-width="0.28">0</text>
<text x="374.7" y="141" font-size="9.4" fill="#262626" text-anchor="middle" stroke="#262626" stroke-width="0.28">5</text>
<text x="409.6" y="141" font-size="9.4" fill="#262626" text-anchor="middle" stroke="#262626" stroke-width="0.28">10</text>
<text x="444.6" y="141" font-size="9.4" fill="#262626" text-anchor="middle" stroke="#262626" stroke-width="0.28">15</text>
<text x="479.5" y="141" font-size="9.4" fill="#262626" text-anchor="middle" stroke="#262626" stroke-width="0.28">20</text>
<text x="514.5" y="141" font-size="9.4" fill="#262626" text-anchor="middle" stroke="#262626" stroke-width="0.28">25</text>
<text x="336.8" y="132.9" font-size="9.4" fill="#262626" text-anchor="end" stroke="#262626" stroke-width="0.28">0</text>
<text x="336.8" y="109.9" font-size="9.4" fill="#262626" text-anchor="end" stroke="#262626" stroke-width="0.28">10</text>
<text x="336.8" y="87.0" font-size="9.4" fill="#262626" text-anchor="end" stroke="#262626" stroke-width="0.28">20</text>
<text x="336.8" y="64.0" font-size="9.4" fill="#262626" text-anchor="end" stroke="#262626" stroke-width="0.28">30</text>
<text x="336.8" y="41.1" font-size="9.4" fill="#262626" text-anchor="end" stroke="#262626" stroke-width="0.28">40</text>
<text x="336.8" y="18.1" font-size="9.4" fill="#262626" text-anchor="end" stroke="#262626" stroke-width="0.28">50</text>
<text x="415.8" y="150.6" font-size="9.4" fill="#262626" stroke="#262626" stroke-width="0.28"><tspan class="serif" font-style="italic" font-size="11">t</tspan> (s)</text>
<text x="0" y="0" font-size="9" fill="#262626" text-anchor="middle" transform="translate(320.6 76) rotate(-90)" stroke="#262626" stroke-width="0.28"><tspan class="serif" font-style="italic" font-size="10.5">x</tspan><tspan font-size="6.5" dy="1.5">f,||</tspan><tspan dy="-1.5"> or </tspan><tspan class="serif" font-style="italic" font-size="10.5">x</tspan><tspan font-size="6.5" dy="1.5">f,⊥</tspan><tspan dy="-1.5"> (mm)</tspan></text>
<line x1="344.8" y1="22" x2="359.2" y2="22" stroke="#111" stroke-width="1.2" stroke-dasharray="6.6,3.3"/>
<line x1="344.8" y1="30.5" x2="359" y2="30.5" stroke="#111" stroke-width="1.1"/>
<text x="363.6" y="25.5" font-size="9.2" fill="#262626" stroke="#262626" stroke-width="0.28">D</text>
<text x="363.6" y="34" font-size="9.2" fill="#262626" stroke="#262626" stroke-width="0.28">H</text>
<text x="377.8" y="48.2" class="serif" font-size="12" font-style="italic" fill="#262626" stroke="#262626" stroke-width="0.28">x<tspan font-size="7" dy="1.8" font-style="normal" font-family="Liberation Sans">f,||</tspan></text>
<text x="438" y="115.5" class="serif" font-size="12" font-style="italic" fill="#262626" stroke="#262626" stroke-width="0.28">x<tspan font-size="7.5" dy="2" font-style="normal" font-family="Liberation Sans">f,⊥</tspan></text>
<text x="0" y="0" font-size="7.8" fill="#555" transform="translate(461 40.5) rotate(-47)" stroke="#555" stroke-width="0.28"><tspan class="serif" font-style="italic" font-size="8.5">ϕ</tspan> = 1%</text>
<text x="0" y="0" font-size="7.8" fill="#4a78b0" transform="translate(447.5 28) rotate(-42)" stroke="#4a78b0" stroke-width="0.28">2%</text>
<text x="0" y="0" font-size="7.8" fill="#8ab8e2" transform="translate(437 26) rotate(-42)" stroke="#8ab8e2" stroke-width="0.28">4%</text>
<text x="0" y="0" font-size="7.8" fill="#78d4ee" transform="translate(415 28) rotate(-38)" stroke="#78d4ee" stroke-width="0.28">6%</text>
<text x="0" y="0" font-size="7.8" fill="#555" transform="translate(450.5 78.5) rotate(-22)" stroke="#555" stroke-width="0.28"><tspan class="serif" font-style="italic" font-size="8.5">ϕ</tspan> = 1%</text>
<text x="0" y="0" font-size="7.8" fill="#4a78b0" transform="translate(481 73) rotate(-12)" stroke="#4a78b0" stroke-width="0.28">2%</text>
<text x="0" y="0" font-size="7.8" fill="#8ab8e2" transform="translate(503 71.5) rotate(-12)" stroke="#8ab8e2" stroke-width="0.28">4%</text>
<text x="0" y="0" font-size="7.8" fill="#78d8ee" transform="translate(496.5 93) rotate(-8)" stroke="#78d8ee" stroke-width="0.28">6%</text>
<text x="299.8" y="164.6" font-size="9.8" fill="#262626" stroke="#262626" stroke-width="0.28">(c)</text>
<g clip-path="url(#clipc)">
<polyline points="346.40,265.80 347.27,263.12 348.14,261.58 349.02,260.29 349.89,259.15 350.76,258.10 351.63,257.12 352.50,256.20 353.38,255.32 354.25,254.48 355.12,253.67 355.99,252.89 356.86,252.13 357.74,251.39 358.61,250.67 359.48,249.97 360.35,249.29 361.22,248.62 362.10,247.96 362.97,247.32 363.84,246.68 364.71,246.06 365.58,245.45 366.46,244.85 367.33,244.26 368.20,243.67 369.07,243.09 369.94,242.53 370.82,241.96 371.69,241.41 372.56,240.86 373.43,240.32 374.30,239.78 375.18,239.25 376.05,238.73 376.92,238.21 377.79,237.69 378.66,237.18 379.54,236.68 380.41,236.18 381.28,235.68 382.15,235.19 383.02,234.70 383.89,234.22 384.77,233.74 385.64,233.26 386.51,232.79 387.38,232.32 388.25,231.85 389.13,231.39 390.00,230.93 390.87,230.48 391.74,230.02 392.61,229.57 393.49,229.13 394.36,228.68 395.23,228.24 396.10,227.80 396.97,227.37 397.85,226.93 398.72,226.50 399.59,226.07 400.46,225.65 401.33,225.22 402.21,224.80 403.08,224.38 403.95,223.97 404.82,223.55 405.69,223.14 406.57,222.73 407.44,222.32 408.31,221.91 409.18,221.51 410.05,221.11 410.93,220.71 411.80,220.31 412.67,219.91 413.54,219.52 414.41,219.12 415.29,218.73 416.16,218.34 417.03,217.95 417.90,217.56 418.77,217.18 419.65,216.80 420.52,216.41 421.39,216.03 422.26,215.66 423.13,215.28 424.01,214.90 424.88,214.53 425.75,214.15 426.62,213.78 427.49,213.41 428.37,213.04 429.24,212.68 430.11,212.31 430.98,211.95 431.85,211.58 432.73,211.22 433.60,210.86 434.47,210.50 435.34,210.14 436.21,209.78 437.09,209.43 437.96,209.07 438.83,208.72 439.70,208.36 440.57,208.01 441.45,207.66 442.32,207.31 443.19,206.97 444.06,206.62 444.93,206.27 445.81,205.93 446.68,205.58 447.55,205.24 448.42,204.90 449.29,204.56 450.17,204.22 451.04,203.88 451.91,203.54 452.78,203.20 453.65,202.87 454.52,202.53 455.40,202.20 456.27,201.86 457.14,201.53 458.01,201.20 458.88,200.87 459.76,200.54 460.63,200.21 461.50,199.88 462.37,199.56 463.24,199.23 464.12,198.90 464.99,198.58 465.86,198.26 466.73,197.93 467.60,197.61 468.48,197.29 469.35,196.97 470.22,196.65 471.09,196.33 471.96,196.01 472.84,195.69 473.71,195.38 474.58,195.06 475.45,194.75 476.32,194.43 477.20,194.12 478.07,193.80 478.94,193.49 479.81,193.18 480.68,192.87 481.56,192.56 482.43,192.25 483.30,191.94 484.17,191.63 485.04,191.32 485.92,191.02 486.79,190.71 487.66,190.40 488.53,190.10 489.40,189.80 490.28,189.49 491.15,189.19 492.02,188.89 492.89,188.58 493.76,188.28 494.64,187.98 495.51,187.68 496.38,187.38 497.25,187.08 498.12,186.79 499.00,186.49 499.87,186.19 500.74,185.90 501.61,185.60 502.48,185.30 503.36,185.01 504.23,184.72 505.10,184.42 505.97,184.13 506.84,183.84 507.72,183.54 508.59,183.25 509.46,182.96 510.33,182.67 511.20,182.38 512.08,182.09 512.95,181.80 513.82,181.52 514.69,181.23 515.56,180.94 516.44,180.65 517.31,180.37 518.18,180.08 519.05,179.80 519.92,179.51 520.79,179.23" fill="none" stroke="#333" stroke-width="1"/>
<circle cx="346.40" cy="265.80" r="2.7" fill="#f6a0a0" stroke="#e06464" stroke-width="0.9"/>
<circle cx="359.81" cy="251.31" r="2.7" fill="#f6a0a0" stroke="#e06464" stroke-width="0.9"/>
<circle cx="373.23" cy="239.24" r="2.7" fill="#f6a0a0" stroke="#e06464" stroke-width="0.9"/>
<circle cx="400.06" cy="225.95" r="2.7" fill="#f6a0a0" stroke="#e06464" stroke-width="0.9"/>
<circle cx="426.89" cy="213.88" r="2.7" fill="#f6a0a0" stroke="#e06464" stroke-width="0.9"/>
<circle cx="453.72" cy="203.01" r="2.7" fill="#f6a0a0" stroke="#e06464" stroke-width="0.9"/>
<circle cx="480.55" cy="194.07" r="2.7" fill="#f6a0a0" stroke="#e06464" stroke-width="0.9"/>
<circle cx="507.38" cy="185.38" r="2.7" fill="#f6a0a0" stroke="#e06464" stroke-width="0.9"/>
<circle cx="373.23" cy="241.65" r="2.7" fill="#88c6ee" stroke="#3c8ccc" stroke-width="0.9"/>
<circle cx="400.06" cy="229.09" r="2.7" fill="#88c6ee" stroke="#3c8ccc" stroke-width="0.9"/>
<circle cx="453.72" cy="207.60" r="2.7" fill="#88c6ee" stroke="#3c8ccc" stroke-width="0.9"/>
<circle cx="507.38" cy="184.17" r="2.7" fill="#88c6ee" stroke="#3c8ccc" stroke-width="0.9"/>
</g>
<rect x="339.6" y="169.3" width="174.9" height="100.7" fill="none" stroke="#1a1a1a" stroke-width="1.1"/>
<path d="M346.40,270.0 v-2.8 M359.81,270.0 v-1.6 M373.23,270.0 v-2.8 M386.64,270.0 v-1.6 M400.06,270.0 v-2.8 M413.47,270.0 v-1.6 M426.89,270.0 v-2.8 M440.30,270.0 v-1.6 M453.72,270.0 v-2.8 M467.13,270.0 v-1.6 M480.55,270.0 v-2.8 M493.96,270.0 v-1.6 M507.38,270.0 v-2.8 M339.6,265.80 h2.8 M339.6,253.73 h1.6 M339.6,241.65 h2.8 M339.6,229.58 h1.6 M339.6,217.50 h2.8 M339.6,205.43 h1.6 M339.6,193.35 h2.8 M339.6,181.28 h1.6 M339.6,169.20 h2.8" stroke="#1a1a1a" stroke-width="0.8" fill="none"/>
<text x="346.4" y="281.2" font-size="9.4" fill="#262626" text-anchor="middle" stroke="#262626" stroke-width="0.28">0</text>
<text x="373.2" y="281.2" font-size="9.4" fill="#262626" text-anchor="middle" stroke="#262626" stroke-width="0.28">1</text>
<text x="400.1" y="281.2" font-size="9.4" fill="#262626" text-anchor="middle" stroke="#262626" stroke-width="0.28">2</text>
<text x="426.9" y="281.2" font-size="9.4" fill="#262626" text-anchor="middle" stroke="#262626" stroke-width="0.28">3</text>
<text x="453.7" y="281.2" font-size="9.4" fill="#262626" text-anchor="middle" stroke="#262626" stroke-width="0.28">4</text>
<text x="480.5" y="281.2" font-size="9.4" fill="#262626" text-anchor="middle" stroke="#262626" stroke-width="0.28">5</text>
<text x="507.4" y="281.2" font-size="9.4" fill="#262626" text-anchor="middle" stroke="#262626" stroke-width="0.28">6</text>
<text x="336.6" y="269.2" font-size="9.4" fill="#262626" text-anchor="end" stroke="#262626" stroke-width="0.28">1</text>
<text x="336.6" y="245.1" font-size="9.4" fill="#262626" text-anchor="end" stroke="#262626" stroke-width="0.28">2</text>
<text x="336.6" y="220.9" font-size="9.4" fill="#262626" text-anchor="end" stroke="#262626" stroke-width="0.28">3</text>
<text x="336.6" y="196.8" font-size="9.4" fill="#262626" text-anchor="end" stroke="#262626" stroke-width="0.28">4</text>
<text x="336.6" y="172.6" font-size="9.4" fill="#262626" text-anchor="end" stroke="#262626" stroke-width="0.28">5</text>
<text x="425.7" y="293.2" class="serif" font-size="12.5" font-style="italic" fill="#262626" text-anchor="middle" stroke="#262626" stroke-width="0.28">ϕ</text>
<circle cx="357.5" cy="180.7" r="2.7" fill="#88c6ee" stroke="#3c8ccc" stroke-width="0.9"/>
<circle cx="357.5" cy="191.2" r="2.7" fill="#f6a0a0" stroke="#e06464" stroke-width="0.9"/>
<line x1="348" y1="201.8" x2="367" y2="201.8" stroke="#333" stroke-width="1.1"/>
<text x="371.6" y="182.3" font-size="9.2" letter-spacing="0.15" fill="#262626" stroke="#262626" stroke-width="0.28"><tspan class="serif" font-style="italic" font-size="11.8">x</tspan><tspan font-size="7" dy="1.7">f,||</tspan><tspan dy="-1.7" class="serif" font-size="11.8">/</tspan><tspan class="serif" font-style="italic" font-size="11.8">x</tspan><tspan font-size="7" dy="1.7">f,⊥</tspan><tspan dy="-1.7">, D</tspan></text>
<text x="371.6" y="192.9" font-size="9.2" letter-spacing="0.15" fill="#262626" stroke="#262626" stroke-width="0.28"><tspan class="serif" font-style="italic" font-size="11.8">x</tspan><tspan font-size="7" dy="1.7">f,||</tspan><tspan dy="-1.7" class="serif" font-size="11.8">/</tspan><tspan class="serif" font-style="italic" font-size="11.8">x</tspan><tspan font-size="7" dy="1.7">f,⊥</tspan><tspan dy="-1.7">, H</tspan></text>
<text x="371.6" y="204" font-size="9.2" letter-spacing="0.15" fill="#262626" stroke="#262626" stroke-width="0.28"><tspan class="serif" font-style="italic" font-size="11.8">ṽ</tspan><tspan font-size="7" dy="1.7">f,||</tspan><tspan dy="-1.7" class="serif" font-size="11.8">/</tspan><tspan class="serif" font-style="italic" font-size="11.8">ṽ</tspan><tspan font-size="7" dy="1.7">f,⊥</tspan><tspan dy="-1.7">, Eq. (6)</tspan></text>
<text x="508.8" y="265.4" font-size="8.6" fill="#262626" text-anchor="end" stroke="#262626" stroke-width="0.28"><tspan class="serif" font-style="italic" font-size="9.4">t</tspan> = 10 s</text>
<text x="0" y="0" font-size="10.5" letter-spacing="0.35" fill="#262626" text-anchor="middle" transform="translate(323.8 218.5) rotate(-90)" stroke="#262626" stroke-width="0.28"><tspan class="serif" font-style="italic" font-size="13.6">x</tspan><tspan font-size="8.5" dy="1.9">f,||</tspan><tspan dy="-1.9" class="serif" font-size="13.6">/</tspan><tspan class="serif" font-style="italic" font-size="13.6">x</tspan><tspan font-size="8.5" dy="1.9">f,⊥</tspan><tspan dy="-1.9">, </tspan><tspan class="serif" font-style="italic" font-size="13.6">ṽ</tspan><tspan font-size="8.5" dy="1.9">f,||</tspan><tspan dy="-1.9" class="serif" font-size="13.6">/</tspan><tspan class="serif" font-style="italic" font-size="13.6">ṽ</tspan><tspan font-size="8.5" dy="1.9">f,⊥</tspan></text>
</svg></body></html>
